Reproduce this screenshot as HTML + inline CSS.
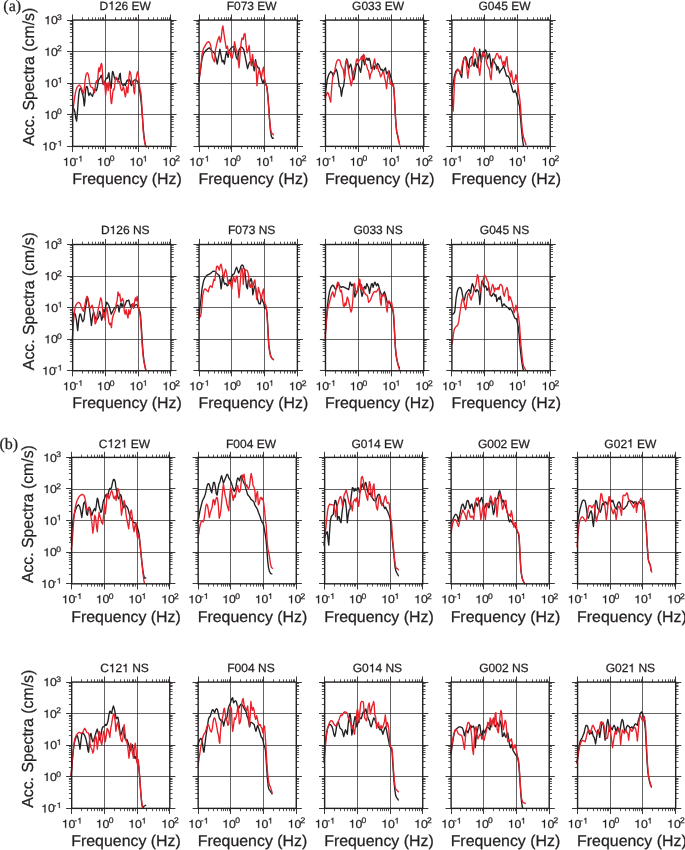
<!DOCTYPE html>
<html><head><meta charset="utf-8"><style>html,body{margin:0;padding:0;background:#fff;overflow:hidden}svg{display:block;will-change:transform}</style></head>
<body><svg width="685" height="850" viewBox="0 0 685 850">
<style>
text{font-family:"Liberation Sans",sans-serif;fill:#231f20;text-rendering:geometricPrecision;stroke:#231f20;stroke-width:0.25px}
path.o{fill:#231f20;stroke:#231f20;stroke-width:0.25px;vector-effect:non-scaling-stroke}
.t{font-size:12px}
.l{font-size:11.5px}
.s{font-size:8.0px}
.ax{font-size:15.6px}
.pl{font-family:"Liberation Serif",serif;font-size:16px}
</style>
<rect width="685" height="850" fill="#fff"/>
<path d="M105.5 20.07V146.37M138.5 20.07V146.37M72.66 51.5H170.96M72.66 83.5H170.96M72.66 114.5H170.96" stroke="#231f20" stroke-opacity="0.7" stroke-width="1" fill="none"/>
<path d="M72.76,107.41 73.91,108.94 74.91,112 75.82,118.12 76.59,121.18 77.35,113.53 78.12,102.82 78.88,93.65 79.65,89.44 80.41,88.29 81.18,89.44 81.94,92.12 82.71,94.41 83.47,98.24 84.24,105.88 84.85,101.29 85.38,92.12 86.15,86.76 86.91,86.38 87.68,88.29 88.44,93.65 88.98,95.56 89.59,93.65 90.2,92.88 90.96,94.41 91.73,95.18 92.49,96.32 93.26,93.65 94.02,90.59 94.79,89.06 95.71,90.21 96.47,90.59 97.24,87.53 98.38,80.65 99.53,78.35 100.45,77.59 101.21,75.29 101.82,76.06 102.59,82.18 103.35,84.47 104.12,83.71 104.88,81.41 105.65,79.5 106.41,77.97 107.02,78.35 107.64,77.97 108.25,74.53 108.86,72.62 109.47,77.59 110.08,82.94 110.69,87.53 111.15,88.29 111.61,82.18 112.07,75.29 112.53,71.47 113.14,72.24 113.75,74.91 114.36,77.59 114.98,79.12 115.59,78.35 116.35,79.12 117.12,79.5 117.73,79.88 118,78.42 118.82,79.45 119.54,74.33 120.25,73.31 120.87,80.47 121.58,83.54 122.3,84.56 123.12,85.59 123.94,84.56 124.65,84.05 125.37,85.59 126.19,82.52 127.01,80.47 127.72,79.96 128.44,81.49 129.26,79.45 130.08,80.47 130.9,84.56 131.51,85.59 132.33,82.52 133.15,82.01 133.86,80.47 134.58,79.96 135.4,79.45 136.22,79.96 137.04,80.98 137.86,82.01 138.47,83.54 139.08,86.61 139.7,90.71 140.31,94.8 140.93,99.92 141.54,106.06 142.16,113.22 142.77,121.41 143.38,129.6 144,135.74 144.82,141.88 145.64,145.98" stroke="#231f20" stroke-width="1.35" fill="none" stroke-linejoin="round" stroke-linecap="round"/>
<path d="M72,115.06 72.61,112.76 73.15,108.94 73.91,102.82 74.68,97.47 75.44,92.88 76.21,89.82 76.97,87.53 77.96,86 78.88,85.24 79.65,85.24 80.41,86.38 81.18,87.53 81.94,89.44 82.71,91.35 83.47,93.65 84.08,90.59 84.62,85.24 85.15,79.88 85.76,76.06 86.53,73.38 87.29,72.62 88.06,73.76 88.82,76.82 89.44,81.41 90.05,85.24 90.74,86.76 91.5,87.15 92.26,87.53 93.03,88.29 93.56,90.59 94.18,92.88 94.79,92.12 95.4,85.24 96.01,82.18 96.62,80.65 97.24,82.94 97.85,78.35 98.46,69.94 99.07,67.65 99.68,71.47 100.29,69.18 100.91,64.59 101.44,63.44 101.98,65.35 102.44,71.47 102.89,79.12 103.35,84.47 103.96,82.94 104.58,82.18 105.19,89.06 105.65,95.18 106.11,90.59 106.56,85.24 107.02,82.94 107.64,86 108.09,90.59 108.55,86.76 109.01,82.18 109.47,82.94 110.08,86.76 110.62,95.94 111.15,102.82 111.61,103.59 112.22,98.24 112.84,92.12 113.45,89.06 114.06,89.82 114.67,86 115.28,79.12 115.89,77.21 116.51,77.59 117.12,79.12 117.73,82.18 118,80.47 118.82,82.01 119.43,81.49 120.05,84.56 120.87,88.66 121.68,90.71 122.5,89.68 123.32,86.61 123.94,88.66 124.55,92.75 125.37,96.85 125.98,93.78 126.6,86.61 127.21,90.71 127.83,92.75 128.44,85.59 129.05,76.38 129.67,71.26 130.28,72.28 130.9,74.33 131.51,80.47 132.12,83.54 132.74,81.49 133.35,84.56 133.97,91.73 134.58,93.78 135.2,84.56 135.81,79.45 136.42,77.4 137.04,73.31 137.65,71.77 138.27,74.33 138.88,78.42 139.49,85.59 140.11,89.68 140.72,91.73 141.13,94.8 141.54,100.94 141.95,107.08 142.36,115.27 142.77,123.46 143.18,130.62 143.79,136.76 144.61,141.88 145.64,145.98 146.45,147" stroke="#e8202a" stroke-width="1.35" fill="none" stroke-linejoin="round" stroke-linecap="round"/>
<path d="M72.5 20.07v-5.6M72.5 146.37v5.6M105.5 20.07v-5.6M105.5 146.37v5.6M138.5 20.07v-5.6M138.5 146.37v5.6M170.5 20.07v-5.6M170.5 146.37v5.6M72.66 146.5h-5.6M170.96 146.5h5.6M72.66 114.5h-5.6M170.96 114.5h5.6M72.66 83.5h-5.6M170.96 83.5h5.6M72.66 51.5h-5.6M170.96 51.5h5.6M72.66 20.5h-5.6M170.96 20.5h5.6" stroke="#231f20" stroke-width="0.9" fill="none"/>
<path d="M82.5 20.07v-2.8M82.5 146.37v2.8M88.5 20.07v-2.8M88.5 146.37v2.8M92.5 20.07v-2.8M92.5 146.37v2.8M95.5 20.07v-2.8M95.5 146.37v2.8M98.5 20.07v-2.8M98.5 146.37v2.8M100.5 20.07v-2.8M100.5 146.37v2.8M102.5 20.07v-2.8M102.5 146.37v2.8M103.5 20.07v-2.8M103.5 146.37v2.8M115.5 20.07v-2.8M115.5 146.37v2.8M121.5 20.07v-2.8M121.5 146.37v2.8M125.5 20.07v-2.8M125.5 146.37v2.8M128.5 20.07v-2.8M128.5 146.37v2.8M130.5 20.07v-2.8M130.5 146.37v2.8M133.5 20.07v-2.8M133.5 146.37v2.8M135.5 20.07v-2.8M135.5 146.37v2.8M136.5 20.07v-2.8M136.5 146.37v2.8M148.5 20.07v-2.8M148.5 146.37v2.8M153.5 20.07v-2.8M153.5 146.37v2.8M157.5 20.07v-2.8M157.5 146.37v2.8M161.5 20.07v-2.8M161.5 146.37v2.8M163.5 20.07v-2.8M163.5 146.37v2.8M165.5 20.07v-2.8M165.5 146.37v2.8M167.5 20.07v-2.8M167.5 146.37v2.8M169.5 20.07v-2.8M169.5 146.37v2.8M72.66 136.5h-2.8M170.96 136.5h2.8M72.66 131.5h-2.8M170.96 131.5h2.8M72.66 127.5h-2.8M170.96 127.5h2.8M72.66 124.5h-2.8M170.96 124.5h2.8M72.66 121.5h-2.8M170.96 121.5h2.8M72.66 119.5h-2.8M170.96 119.5h2.8M72.66 117.5h-2.8M170.96 117.5h2.8M72.66 116.5h-2.8M170.96 116.5h2.8M72.66 105.5h-2.8M170.96 105.5h2.8M72.66 99.5h-2.8M170.96 99.5h2.8M72.66 95.5h-2.8M170.96 95.5h2.8M72.66 92.5h-2.8M170.96 92.5h2.8M72.66 90.5h-2.8M170.96 90.5h2.8M72.66 88.5h-2.8M170.96 88.5h2.8M72.66 86.5h-2.8M170.96 86.5h2.8M72.66 84.5h-2.8M170.96 84.5h2.8M72.66 73.5h-2.8M170.96 73.5h2.8M72.66 68.5h-2.8M170.96 68.5h2.8M72.66 64.5h-2.8M170.96 64.5h2.8M72.66 61.5h-2.8M170.96 61.5h2.8M72.66 58.5h-2.8M170.96 58.5h2.8M72.66 56.5h-2.8M170.96 56.5h2.8M72.66 54.5h-2.8M170.96 54.5h2.8M72.66 53.5h-2.8M170.96 53.5h2.8M72.66 42.5h-2.8M170.96 42.5h2.8M72.66 36.5h-2.8M170.96 36.5h2.8M72.66 32.5h-2.8M170.96 32.5h2.8M72.66 29.5h-2.8M170.96 29.5h2.8M72.66 27.5h-2.8M170.96 27.5h2.8M72.66 24.5h-2.8M170.96 24.5h2.8M72.66 23.5h-2.8M170.96 23.5h2.8M72.66 21.5h-2.8M170.96 21.5h2.8" stroke="#231f20" stroke-width="0.75" fill="none"/>
<rect x="72.66" y="20.07" width="98.3" height="126.3" stroke="#231f20" stroke-width="1.4" fill="none"/>
<text transform="translate(99.58 9.67) scale(1.0 1)" class="t" xml:space="preserve">D</text>
<path class="o" d="M359 0H273V503H101V565C222 573 263 600 291 703H359Z" transform="translate(108.25 9.67) scale(0.01200 -0.01200)"/>
<text transform="translate(114.92 9.67) scale(1.0 1)" class="t" xml:space="preserve">26 EW</text>
<path class="o" d="M359 0H273V503H101V565C222 573 263 600 291 703H359Z" transform="translate(42.06 150.47) scale(0.01230 -0.01150)"/>
<text transform="translate(48.9 150.47) scale(1.07 1)" class="l" xml:space="preserve">0</text>
<text transform="translate(54.55 146.07) scale(1.07 1)" class="s" xml:space="preserve">-</text>
<path class="o" d="M359 0H273V503H101V565C222 573 263 600 291 703H359Z" transform="translate(57.6 146.07) scale(0.00856 -0.00800)"/>
<path class="o" d="M359 0H273V503H101V565C222 573 263 600 291 703H359Z" transform="translate(44.21 118.89) scale(0.01230 -0.01150)"/>
<text transform="translate(51.05 118.89) scale(1.07 1)" class="l" xml:space="preserve">0</text>
<text transform="translate(57.1 114.49) scale(1.07 1)" class="s" xml:space="preserve">0</text>
<path class="o" d="M359 0H273V503H101V565C222 573 263 600 291 703H359Z" transform="translate(44.31 87.32) scale(0.01230 -0.01150)"/>
<text transform="translate(51.15 87.32) scale(1.07 1)" class="l" xml:space="preserve">0</text>
<path class="o" d="M359 0H273V503H101V565C222 573 263 600 291 703H359Z" transform="translate(57.6 82.92) scale(0.00856 -0.00800)"/>
<path class="o" d="M359 0H273V503H101V565C222 573 263 600 291 703H359Z" transform="translate(44.21 55.75) scale(0.01230 -0.01150)"/>
<text transform="translate(51.05 55.75) scale(1.07 1)" class="l" xml:space="preserve">0</text>
<text transform="translate(57.1 51.35) scale(1.07 1)" class="s" xml:space="preserve">2</text>
<path class="o" d="M359 0H273V503H101V565C222 573 263 600 291 703H359Z" transform="translate(44.21 24.17) scale(0.01230 -0.01150)"/>
<text transform="translate(51.05 24.17) scale(1.07 1)" class="l" xml:space="preserve">0</text>
<text transform="translate(57.1 19.77) scale(1.07 1)" class="s" xml:space="preserve">3</text>
<path class="o" d="M359 0H273V503H101V565C222 573 263 600 291 703H359Z" transform="translate(62.71 165.87) scale(0.01230 -0.01150)"/>
<text transform="translate(69.55 165.87) scale(1.07 1)" class="l" xml:space="preserve">0</text>
<text transform="translate(75.2 161.47) scale(1.07 1)" class="s" xml:space="preserve">-</text>
<path class="o" d="M359 0H273V503H101V565C222 573 263 600 291 703H359Z" transform="translate(78.25 161.47) scale(0.00856 -0.00800)"/>
<path class="o" d="M359 0H273V503H101V565C222 573 263 600 291 703H359Z" transform="translate(96.8 165.87) scale(0.01230 -0.01150)"/>
<text transform="translate(103.65 165.87) scale(1.07 1)" class="l" xml:space="preserve">0</text>
<text transform="translate(109.69 161.47) scale(1.07 1)" class="s" xml:space="preserve">0</text>
<path class="o" d="M359 0H273V503H101V565C222 573 263 600 291 703H359Z" transform="translate(129.37 165.87) scale(0.01230 -0.01150)"/>
<text transform="translate(136.21 165.87) scale(1.07 1)" class="l" xml:space="preserve">0</text>
<path class="o" d="M359 0H273V503H101V565C222 573 263 600 291 703H359Z" transform="translate(142.66 161.47) scale(0.00856 -0.00800)"/>
<path class="o" d="M359 0H273V503H101V565C222 573 263 600 291 703H359Z" transform="translate(162.34 165.87) scale(0.01230 -0.01150)"/>
<text transform="translate(169.18 165.87) scale(1.07 1)" class="l" xml:space="preserve">0</text>
<text transform="translate(175.22 161.47) scale(1.07 1)" class="s" xml:space="preserve">2</text>
<text transform="translate(72.19 184.07) scale(1.02 1)" class="ax">Frequency (Hz)</text>
<path d="M231.5 20.07V146.37M264.5 20.07V146.37M199.07 51.5H297.37M199.07 83.5H297.37M199.07 114.5H297.37" stroke="#231f20" stroke-opacity="0.7" stroke-width="1" fill="none"/>
<path d="M199,81.26 200.49,69.31 201.99,59.15 203.48,53.62 205.72,50.63 207.96,48.69 209.46,47.79 210.95,49.88 213.19,52.12 214.69,53.62 216.18,58.85 217.23,64.08 218.42,57.35 219.92,49.14 221.11,55.86 222.16,61.84 223.2,60.34 224.4,64.08 225.6,55.86 226.64,51.38 228.14,57.35 228.88,52.12 230.38,49.14 231.87,47.19 233.36,46.6 234.86,49.88 236.35,57.35 237.55,59.59 239.04,49.88 240.84,46.89 242.33,47.64 243.82,49.88 245.32,57.35 246.51,63.33 247.56,68.56 249.05,63.33 250.55,61.09 252.04,59.59 253.09,64.82 254.28,70.8 255.48,59.59 256.52,64.82 258.02,67.81 259.06,67.81 260.26,73.79 261.75,79.76 262.95,83.5 264.14,79.76 265.49,82.75 266.98,87.24 268.03,97.69 268.92,109.65 269.67,121.6 270.42,130.56 271.46,136.54 272.51,138.33 273.41,138.04" stroke="#231f20" stroke-width="1.35" fill="none" stroke-linejoin="round" stroke-linecap="round"/>
<path d="M199,78.27 200.49,70.8 201.99,54.66 203.48,48.69 205.28,45.4 207.22,42.41 208.71,41.66 210.21,43.91 211.25,48.39 212.45,57.35 213.94,61.09 214.69,61.84 215.44,49.88 216.63,44.65 217.68,40.17 219.17,36.44 220.22,42.41 221.11,39.42 222.16,28.96 222.91,25.98 224.1,34.94 225.15,41.66 226.19,48.39 227.39,46.15 228.58,53.62 229.78,51.38 231.12,57.35 232.17,58.1 233.36,52.87 234.56,41.66 235.61,47.64 236.65,50.63 237.85,57.35 239.04,67.81 240.09,54.36 241.13,43.16 242.03,37.93 243.23,39.42 244.12,34.19 245.02,33.45 246.06,44.65 247.11,52.87 248.31,49.14 249.2,45.4 250.1,57.35 251.29,65.57 252.49,54.36 253.54,61.84 254.58,66.32 255.78,61.84 256.97,85.74 258.02,74.54 259.06,70.05 260.26,72.29 261.45,77.52 262.5,70.8 263.55,67.06 264.44,76.78 265.49,84.25 266.53,85.74 267.73,94.71 268.63,106.66 269.52,118.61 270.42,127.58 271.32,132.81 272.51,133.55 273.41,134.75" stroke="#e8202a" stroke-width="1.35" fill="none" stroke-linejoin="round" stroke-linecap="round"/>
<path d="M199.5 20.07v-5.6M199.5 146.37v5.6M231.5 20.07v-5.6M231.5 146.37v5.6M264.5 20.07v-5.6M264.5 146.37v5.6M297.5 20.07v-5.6M297.5 146.37v5.6M199.07 146.5h-5.6M297.37 146.5h5.6M199.07 114.5h-5.6M297.37 114.5h5.6M199.07 83.5h-5.6M297.37 83.5h5.6M199.07 51.5h-5.6M297.37 51.5h5.6M199.07 20.5h-5.6M297.37 20.5h5.6" stroke="#231f20" stroke-width="0.9" fill="none"/>
<path d="M208.5 20.07v-2.8M208.5 146.37v2.8M214.5 20.07v-2.8M214.5 146.37v2.8M218.5 20.07v-2.8M218.5 146.37v2.8M221.5 20.07v-2.8M221.5 146.37v2.8M224.5 20.07v-2.8M224.5 146.37v2.8M226.5 20.07v-2.8M226.5 146.37v2.8M228.5 20.07v-2.8M228.5 146.37v2.8M230.5 20.07v-2.8M230.5 146.37v2.8M241.5 20.07v-2.8M241.5 146.37v2.8M247.5 20.07v-2.8M247.5 146.37v2.8M251.5 20.07v-2.8M251.5 146.37v2.8M254.5 20.07v-2.8M254.5 146.37v2.8M257.5 20.07v-2.8M257.5 146.37v2.8M259.5 20.07v-2.8M259.5 146.37v2.8M261.5 20.07v-2.8M261.5 146.37v2.8M263.5 20.07v-2.8M263.5 146.37v2.8M274.5 20.07v-2.8M274.5 146.37v2.8M280.5 20.07v-2.8M280.5 146.37v2.8M284.5 20.07v-2.8M284.5 146.37v2.8M287.5 20.07v-2.8M287.5 146.37v2.8M290.5 20.07v-2.8M290.5 146.37v2.8M292.5 20.07v-2.8M292.5 146.37v2.8M294.5 20.07v-2.8M294.5 146.37v2.8M295.5 20.07v-2.8M295.5 146.37v2.8M199.07 136.5h-2.8M297.37 136.5h2.8M199.07 131.5h-2.8M297.37 131.5h2.8M199.07 127.5h-2.8M297.37 127.5h2.8M199.07 124.5h-2.8M297.37 124.5h2.8M199.07 121.5h-2.8M297.37 121.5h2.8M199.07 119.5h-2.8M297.37 119.5h2.8M199.07 117.5h-2.8M297.37 117.5h2.8M199.07 116.5h-2.8M297.37 116.5h2.8M199.07 105.5h-2.8M297.37 105.5h2.8M199.07 99.5h-2.8M297.37 99.5h2.8M199.07 95.5h-2.8M297.37 95.5h2.8M199.07 92.5h-2.8M297.37 92.5h2.8M199.07 90.5h-2.8M297.37 90.5h2.8M199.07 88.5h-2.8M297.37 88.5h2.8M199.07 86.5h-2.8M297.37 86.5h2.8M199.07 84.5h-2.8M297.37 84.5h2.8M199.07 73.5h-2.8M297.37 73.5h2.8M199.07 68.5h-2.8M297.37 68.5h2.8M199.07 64.5h-2.8M297.37 64.5h2.8M199.07 61.5h-2.8M297.37 61.5h2.8M199.07 58.5h-2.8M297.37 58.5h2.8M199.07 56.5h-2.8M297.37 56.5h2.8M199.07 54.5h-2.8M297.37 54.5h2.8M199.07 53.5h-2.8M297.37 53.5h2.8M199.07 42.5h-2.8M297.37 42.5h2.8M199.07 36.5h-2.8M297.37 36.5h2.8M199.07 32.5h-2.8M297.37 32.5h2.8M199.07 29.5h-2.8M297.37 29.5h2.8M199.07 27.5h-2.8M297.37 27.5h2.8M199.07 24.5h-2.8M297.37 24.5h2.8M199.07 23.5h-2.8M297.37 23.5h2.8M199.07 21.5h-2.8M297.37 21.5h2.8" stroke="#231f20" stroke-width="0.75" fill="none"/>
<rect x="199.07" y="20.07" width="98.3" height="126.3" stroke="#231f20" stroke-width="1.4" fill="none"/>
<text transform="translate(226.66 9.67) scale(1.0 1)" class="t" xml:space="preserve">F073 EW</text>
<path class="o" d="M359 0H273V503H101V565C222 573 263 600 291 703H359Z" transform="translate(189.12 165.87) scale(0.01230 -0.01150)"/>
<text transform="translate(195.96 165.87) scale(1.07 1)" class="l" xml:space="preserve">0</text>
<text transform="translate(201.61 161.47) scale(1.07 1)" class="s" xml:space="preserve">-</text>
<path class="o" d="M359 0H273V503H101V565C222 573 263 600 291 703H359Z" transform="translate(204.66 161.47) scale(0.00856 -0.00800)"/>
<path class="o" d="M359 0H273V503H101V565C222 573 263 600 291 703H359Z" transform="translate(223.21 165.87) scale(0.01230 -0.01150)"/>
<text transform="translate(230.06 165.87) scale(1.07 1)" class="l" xml:space="preserve">0</text>
<text transform="translate(236.1 161.47) scale(1.07 1)" class="s" xml:space="preserve">0</text>
<path class="o" d="M359 0H273V503H101V565C222 573 263 600 291 703H359Z" transform="translate(255.78 165.87) scale(0.01230 -0.01150)"/>
<text transform="translate(262.62 165.87) scale(1.07 1)" class="l" xml:space="preserve">0</text>
<path class="o" d="M359 0H273V503H101V565C222 573 263 600 291 703H359Z" transform="translate(269.07 161.47) scale(0.00856 -0.00800)"/>
<path class="o" d="M359 0H273V503H101V565C222 573 263 600 291 703H359Z" transform="translate(288.75 165.87) scale(0.01230 -0.01150)"/>
<text transform="translate(295.59 165.87) scale(1.07 1)" class="l" xml:space="preserve">0</text>
<text transform="translate(301.63 161.47) scale(1.07 1)" class="s" xml:space="preserve">2</text>
<text transform="translate(198.6 184.07) scale(1.02 1)" class="ax">Frequency (Hz)</text>
<path d="M358.5 20.07V146.37M391.5 20.07V146.37M325.48 51.5H423.78M325.48 83.5H423.78M325.48 114.5H423.78" stroke="#231f20" stroke-opacity="0.7" stroke-width="1" fill="none"/>
<path d="M325,96.2 326.2,87.24 327.24,79.76 328.74,74.54 330.68,71.55 332.17,73.04 333.22,76.03 334.71,72.29 336.21,69.31 337.25,72.29 338.45,79.76 339.19,86.49 340.39,87.24 341.44,96.2 342.63,88.73 343.68,85.74 344.42,79.76 345.62,63.33 346.66,58.85 347.71,61.84 348.61,69.31 349.65,66.32 350.7,64.08 351.6,67.81 352.64,76.78 353.69,79.76 354.88,73.79 356.08,66.32 357.12,63.33 358.17,64.82 359.36,67.81 360.56,72.29 361.61,66.32 362.35,55.86 363.55,60.34 364.59,64.82 365.64,59.59 366.84,58.1 368.03,60.34 369.08,58.1 370.12,61.09 371.32,68.56 372.51,67.81 373.56,65.57 374.31,69.31 375.5,64.82 376.55,66.32 377.59,63.33 378.79,64.82 379.98,67.81 381.03,70.05 382.08,69.31 383.27,72.29 384.47,69.31 385.51,67.81 386.56,73.79 387.75,72.29 388.95,70.8 390.14,74.54 391.19,78.27 392.24,82.75 393.43,86.49 394.03,90.22 394.63,100.68 395.22,112.64 395.97,124.59 396.72,132.06 397.91,136.54 398.96,141.77" stroke="#231f20" stroke-width="1.35" fill="none" stroke-linejoin="round" stroke-linecap="round"/>
<path d="M325,97.69 326.2,95.45 327.24,92.46 328.29,93.21 329.48,97.69 330.68,102.18 331.72,87.24 332.77,76.78 333.67,73.04 334.71,71.55 335.76,64.82 336.95,61.09 338.45,59.59 339.94,60.34 341.14,65.57 342.18,67.81 343.23,69.31 344.42,78.27 345.62,64.82 346.66,60.34 347.71,64.82 348.91,73.79 350.1,79.76 351.15,85.74 352.19,81.26 353.39,72.29 354.58,69.31 355.63,64.82 356.38,60.34 357.12,58.85 358.17,61.84 359.36,60.34 360.56,58.85 361.61,56.61 362.65,59.59 363.55,54.36 364.44,55.86 365.34,63.33 366.54,64.82 367.58,69.31 368.63,70.8 369.82,79.02 370.57,73.79 371.62,72.29 372.51,69.31 373.56,63.33 374.6,58.85 375.5,64.82 376.55,68.56 377.59,66.32 378.49,70.8 379.54,72.29 380.58,76.78 381.48,75.28 382.52,73.04 383.57,71.55 384.47,76.78 385.51,81.26 386.56,88.73 387.45,79.76 388.5,71.55 389.55,78.27 390.44,84.25 391.49,82.75 392.53,85.74 393.43,84.25 394.03,90.22 394.63,100.68 395.22,112.64 395.97,124.59 396.72,132.06 397.91,136.54 398.96,142.52 399.71,144.76" stroke="#e8202a" stroke-width="1.35" fill="none" stroke-linejoin="round" stroke-linecap="round"/>
<path d="M325.5 20.07v-5.6M325.5 146.37v5.6M358.5 20.07v-5.6M358.5 146.37v5.6M391.5 20.07v-5.6M391.5 146.37v5.6M423.5 20.07v-5.6M423.5 146.37v5.6M325.48 146.5h-5.6M423.78 146.5h5.6M325.48 114.5h-5.6M423.78 114.5h5.6M325.48 83.5h-5.6M423.78 83.5h5.6M325.48 51.5h-5.6M423.78 51.5h5.6M325.48 20.5h-5.6M423.78 20.5h5.6" stroke="#231f20" stroke-width="0.9" fill="none"/>
<path d="M335.5 20.07v-2.8M335.5 146.37v2.8M341.5 20.07v-2.8M341.5 146.37v2.8M345.5 20.07v-2.8M345.5 146.37v2.8M348.5 20.07v-2.8M348.5 146.37v2.8M350.5 20.07v-2.8M350.5 146.37v2.8M353.5 20.07v-2.8M353.5 146.37v2.8M355.5 20.07v-2.8M355.5 146.37v2.8M356.5 20.07v-2.8M356.5 146.37v2.8M368.5 20.07v-2.8M368.5 146.37v2.8M373.5 20.07v-2.8M373.5 146.37v2.8M377.5 20.07v-2.8M377.5 146.37v2.8M381.5 20.07v-2.8M381.5 146.37v2.8M383.5 20.07v-2.8M383.5 146.37v2.8M385.5 20.07v-2.8M385.5 146.37v2.8M387.5 20.07v-2.8M387.5 146.37v2.8M389.5 20.07v-2.8M389.5 146.37v2.8M400.5 20.07v-2.8M400.5 146.37v2.8M406.5 20.07v-2.8M406.5 146.37v2.8M410.5 20.07v-2.8M410.5 146.37v2.8M413.5 20.07v-2.8M413.5 146.37v2.8M416.5 20.07v-2.8M416.5 146.37v2.8M418.5 20.07v-2.8M418.5 146.37v2.8M420.5 20.07v-2.8M420.5 146.37v2.8M422.5 20.07v-2.8M422.5 146.37v2.8M325.48 136.5h-2.8M423.78 136.5h2.8M325.48 131.5h-2.8M423.78 131.5h2.8M325.48 127.5h-2.8M423.78 127.5h2.8M325.48 124.5h-2.8M423.78 124.5h2.8M325.48 121.5h-2.8M423.78 121.5h2.8M325.48 119.5h-2.8M423.78 119.5h2.8M325.48 117.5h-2.8M423.78 117.5h2.8M325.48 116.5h-2.8M423.78 116.5h2.8M325.48 105.5h-2.8M423.78 105.5h2.8M325.48 99.5h-2.8M423.78 99.5h2.8M325.48 95.5h-2.8M423.78 95.5h2.8M325.48 92.5h-2.8M423.78 92.5h2.8M325.48 90.5h-2.8M423.78 90.5h2.8M325.48 88.5h-2.8M423.78 88.5h2.8M325.48 86.5h-2.8M423.78 86.5h2.8M325.48 84.5h-2.8M423.78 84.5h2.8M325.48 73.5h-2.8M423.78 73.5h2.8M325.48 68.5h-2.8M423.78 68.5h2.8M325.48 64.5h-2.8M423.78 64.5h2.8M325.48 61.5h-2.8M423.78 61.5h2.8M325.48 58.5h-2.8M423.78 58.5h2.8M325.48 56.5h-2.8M423.78 56.5h2.8M325.48 54.5h-2.8M423.78 54.5h2.8M325.48 53.5h-2.8M423.78 53.5h2.8M325.48 42.5h-2.8M423.78 42.5h2.8M325.48 36.5h-2.8M423.78 36.5h2.8M325.48 32.5h-2.8M423.78 32.5h2.8M325.48 29.5h-2.8M423.78 29.5h2.8M325.48 27.5h-2.8M423.78 27.5h2.8M325.48 24.5h-2.8M423.78 24.5h2.8M325.48 23.5h-2.8M423.78 23.5h2.8M325.48 21.5h-2.8M423.78 21.5h2.8" stroke="#231f20" stroke-width="0.75" fill="none"/>
<rect x="325.48" y="20.07" width="98.3" height="126.3" stroke="#231f20" stroke-width="1.4" fill="none"/>
<text transform="translate(352.07 9.67) scale(1.0 1)" class="t" xml:space="preserve">G033 EW</text>
<path class="o" d="M359 0H273V503H101V565C222 573 263 600 291 703H359Z" transform="translate(315.53 165.87) scale(0.01230 -0.01150)"/>
<text transform="translate(322.37 165.87) scale(1.07 1)" class="l" xml:space="preserve">0</text>
<text transform="translate(328.02 161.47) scale(1.07 1)" class="s" xml:space="preserve">-</text>
<path class="o" d="M359 0H273V503H101V565C222 573 263 600 291 703H359Z" transform="translate(331.07 161.47) scale(0.00856 -0.00800)"/>
<path class="o" d="M359 0H273V503H101V565C222 573 263 600 291 703H359Z" transform="translate(349.62 165.87) scale(0.01230 -0.01150)"/>
<text transform="translate(356.47 165.87) scale(1.07 1)" class="l" xml:space="preserve">0</text>
<text transform="translate(362.51 161.47) scale(1.07 1)" class="s" xml:space="preserve">0</text>
<path class="o" d="M359 0H273V503H101V565C222 573 263 600 291 703H359Z" transform="translate(382.19 165.87) scale(0.01230 -0.01150)"/>
<text transform="translate(389.03 165.87) scale(1.07 1)" class="l" xml:space="preserve">0</text>
<path class="o" d="M359 0H273V503H101V565C222 573 263 600 291 703H359Z" transform="translate(395.48 161.47) scale(0.00856 -0.00800)"/>
<path class="o" d="M359 0H273V503H101V565C222 573 263 600 291 703H359Z" transform="translate(415.16 165.87) scale(0.01230 -0.01150)"/>
<text transform="translate(422 165.87) scale(1.07 1)" class="l" xml:space="preserve">0</text>
<text transform="translate(428.04 161.47) scale(1.07 1)" class="s" xml:space="preserve">2</text>
<text transform="translate(325.01 184.07) scale(1.02 1)" class="ax">Frequency (Hz)</text>
<path d="M484.5 20.07V146.37M517.5 20.07V146.37M451.89 51.5H550.19M451.89 83.5H550.19M451.89 114.5H550.19" stroke="#231f20" stroke-opacity="0.7" stroke-width="1" fill="none"/>
<path d="M452,93.21 453.2,84.25 454.24,76.78 455.74,71.55 457.68,69.31 459.47,71.55 460.67,75.28 461.71,77.52 462.76,64.82 463.95,58.1 465.45,56.61 466.64,58.85 467.69,64.82 468.73,67.81 469.93,58.85 471.12,57.35 472.17,56.61 472.92,63.33 474.11,66.32 475.16,58.85 476.2,64.82 477.4,67.81 478.6,60.34 479.64,49.14 480.39,54.36 481.14,61.84 482.18,55.86 483.38,51.38 484.57,52.12 485.62,49.88 486.66,52.87 487.56,58.85 488.61,55.86 489.35,53.62 490.25,58.85 491.15,67.81 492.04,63.33 492.94,58.85 493.84,61.09 495.03,63.33 496.08,64.82 496.82,70.05 497.72,66.32 498.62,68.56 499.51,73.04 500.56,70.8 501.6,69.31 502.8,67.81 503.55,65.57 504.59,69.31 505.49,72.29 506.54,76.03 508.03,76.03 509.52,78.27 510.57,83.5 511.76,87.24 512.96,91.72 514.01,92.46 515.05,90.22 516.25,93.21 517.44,97.69 518.49,102.92 519.53,105.91 520.43,117.12 521.48,129.07 522.52,139.53 523.42,145.51" stroke="#231f20" stroke-width="1.35" fill="none" stroke-linejoin="round" stroke-linecap="round"/>
<path d="M452,93.21 452.75,105.16 453.2,111.14 453.79,99.19 454.39,82.75 455.29,75.28 456.48,71.55 457.98,69.31 459.17,70.8 460.22,73.79 461.26,70.8 462.46,63.33 463.65,58.85 464.7,57.35 466.19,61.09 466.94,69.31 467.84,78.27 468.73,70.8 469.63,66.32 470.68,66.32 471.72,65.57 472.62,58.85 473.66,49.88 474.41,47.64 475.61,52.87 476.65,53.62 477.7,60.34 478.89,69.31 479.79,75.28 480.69,66.32 481.58,57.35 482.63,52.87 483.68,56.61 484.87,53.62 486.07,59.59 487.11,64.82 488.16,67.06 489.35,69.31 490.25,76.78 491.15,79.76 492.04,67.81 493.09,61.84 494.13,59.59 495.33,57.35 496.52,53.62 497.57,53.62 498.62,56.61 499.51,58.85 500.56,55.86 501.6,60.34 502.8,64.82 504,61.09 505.04,66.32 506.09,58.1 506.98,56.61 507.58,64.82 508.48,70.8 509.52,73.04 510.57,76.78 511.47,70.8 512.51,79.76 513.56,84.25 514.75,80.51 515.95,74.54 516.99,79.76 517.74,84.25 518.94,93.21 519.98,100.68 520.73,109.65 521.48,121.6 522.52,132.06 523.72,138.04 524.91,141.02 525.96,144.76" stroke="#e8202a" stroke-width="1.35" fill="none" stroke-linejoin="round" stroke-linecap="round"/>
<path d="M451.5 20.07v-5.6M451.5 146.37v5.6M484.5 20.07v-5.6M484.5 146.37v5.6M517.5 20.07v-5.6M517.5 146.37v5.6M550.5 20.07v-5.6M550.5 146.37v5.6M451.89 146.5h-5.6M550.19 146.5h5.6M451.89 114.5h-5.6M550.19 114.5h5.6M451.89 83.5h-5.6M550.19 83.5h5.6M451.89 51.5h-5.6M550.19 51.5h5.6M451.89 20.5h-5.6M550.19 20.5h5.6" stroke="#231f20" stroke-width="0.9" fill="none"/>
<path d="M461.5 20.07v-2.8M461.5 146.37v2.8M467.5 20.07v-2.8M467.5 146.37v2.8M471.5 20.07v-2.8M471.5 146.37v2.8M474.5 20.07v-2.8M474.5 146.37v2.8M477.5 20.07v-2.8M477.5 146.37v2.8M479.5 20.07v-2.8M479.5 146.37v2.8M481.5 20.07v-2.8M481.5 146.37v2.8M483.5 20.07v-2.8M483.5 146.37v2.8M494.5 20.07v-2.8M494.5 146.37v2.8M500.5 20.07v-2.8M500.5 146.37v2.8M504.5 20.07v-2.8M504.5 146.37v2.8M507.5 20.07v-2.8M507.5 146.37v2.8M510.5 20.07v-2.8M510.5 146.37v2.8M512.5 20.07v-2.8M512.5 146.37v2.8M514.5 20.07v-2.8M514.5 146.37v2.8M515.5 20.07v-2.8M515.5 146.37v2.8M527.5 20.07v-2.8M527.5 146.37v2.8M533.5 20.07v-2.8M533.5 146.37v2.8M537.5 20.07v-2.8M537.5 146.37v2.8M540.5 20.07v-2.8M540.5 146.37v2.8M542.5 20.07v-2.8M542.5 146.37v2.8M545.5 20.07v-2.8M545.5 146.37v2.8M547.5 20.07v-2.8M547.5 146.37v2.8M548.5 20.07v-2.8M548.5 146.37v2.8M451.89 136.5h-2.8M550.19 136.5h2.8M451.89 131.5h-2.8M550.19 131.5h2.8M451.89 127.5h-2.8M550.19 127.5h2.8M451.89 124.5h-2.8M550.19 124.5h2.8M451.89 121.5h-2.8M550.19 121.5h2.8M451.89 119.5h-2.8M550.19 119.5h2.8M451.89 117.5h-2.8M550.19 117.5h2.8M451.89 116.5h-2.8M550.19 116.5h2.8M451.89 105.5h-2.8M550.19 105.5h2.8M451.89 99.5h-2.8M550.19 99.5h2.8M451.89 95.5h-2.8M550.19 95.5h2.8M451.89 92.5h-2.8M550.19 92.5h2.8M451.89 90.5h-2.8M550.19 90.5h2.8M451.89 88.5h-2.8M550.19 88.5h2.8M451.89 86.5h-2.8M550.19 86.5h2.8M451.89 84.5h-2.8M550.19 84.5h2.8M451.89 73.5h-2.8M550.19 73.5h2.8M451.89 68.5h-2.8M550.19 68.5h2.8M451.89 64.5h-2.8M550.19 64.5h2.8M451.89 61.5h-2.8M550.19 61.5h2.8M451.89 58.5h-2.8M550.19 58.5h2.8M451.89 56.5h-2.8M550.19 56.5h2.8M451.89 54.5h-2.8M550.19 54.5h2.8M451.89 53.5h-2.8M550.19 53.5h2.8M451.89 42.5h-2.8M550.19 42.5h2.8M451.89 36.5h-2.8M550.19 36.5h2.8M451.89 32.5h-2.8M550.19 32.5h2.8M451.89 29.5h-2.8M550.19 29.5h2.8M451.89 27.5h-2.8M550.19 27.5h2.8M451.89 24.5h-2.8M550.19 24.5h2.8M451.89 23.5h-2.8M550.19 23.5h2.8M451.89 21.5h-2.8M550.19 21.5h2.8" stroke="#231f20" stroke-width="0.75" fill="none"/>
<rect x="451.89" y="20.07" width="98.3" height="126.3" stroke="#231f20" stroke-width="1.4" fill="none"/>
<text transform="translate(478.48 9.67) scale(1.0 1)" class="t" xml:space="preserve">G045 EW</text>
<path class="o" d="M359 0H273V503H101V565C222 573 263 600 291 703H359Z" transform="translate(441.94 165.87) scale(0.01230 -0.01150)"/>
<text transform="translate(448.78 165.87) scale(1.07 1)" class="l" xml:space="preserve">0</text>
<text transform="translate(454.43 161.47) scale(1.07 1)" class="s" xml:space="preserve">-</text>
<path class="o" d="M359 0H273V503H101V565C222 573 263 600 291 703H359Z" transform="translate(457.48 161.47) scale(0.00856 -0.00800)"/>
<path class="o" d="M359 0H273V503H101V565C222 573 263 600 291 703H359Z" transform="translate(476.03 165.87) scale(0.01230 -0.01150)"/>
<text transform="translate(482.88 165.87) scale(1.07 1)" class="l" xml:space="preserve">0</text>
<text transform="translate(488.92 161.47) scale(1.07 1)" class="s" xml:space="preserve">0</text>
<path class="o" d="M359 0H273V503H101V565C222 573 263 600 291 703H359Z" transform="translate(508.6 165.87) scale(0.01230 -0.01150)"/>
<text transform="translate(515.44 165.87) scale(1.07 1)" class="l" xml:space="preserve">0</text>
<path class="o" d="M359 0H273V503H101V565C222 573 263 600 291 703H359Z" transform="translate(521.89 161.47) scale(0.00856 -0.00800)"/>
<path class="o" d="M359 0H273V503H101V565C222 573 263 600 291 703H359Z" transform="translate(541.57 165.87) scale(0.01230 -0.01150)"/>
<text transform="translate(548.41 165.87) scale(1.07 1)" class="l" xml:space="preserve">0</text>
<text transform="translate(554.45 161.47) scale(1.07 1)" class="s" xml:space="preserve">2</text>
<text transform="translate(451.42 184.07) scale(1.02 1)" class="ax">Frequency (Hz)</text>
<text transform="translate(34.26 76.77) scale(1.008 1) rotate(-90)" class="ax" style="font-size:15.82px" text-anchor="middle">Acc. Spectra (cm/s)</text>
<path d="M105.5 244.5V370.74M138.5 244.5V370.74M72.66 276.5H170.96M72.66 307.5H170.96M72.66 339.5H170.96" stroke="#231f20" stroke-opacity="0.7" stroke-width="1" fill="none"/>
<path d="M72,321.69 73.2,315.72 74.24,312.73 75.29,314.22 76.48,320.2 77.68,330.66 78.72,320.2 79.77,314.22 80.67,314.22 81.71,318.71 82.76,321.69 83.95,319.45 85.15,309.74 86.19,303.76 87.24,297.04 88.44,300.78 89.63,309.74 90.68,318.71 91.42,325.43 92.62,315.72 93.66,311.98 94.71,315.72 95.61,318.71 96.65,320.2 97.7,318.71 98.89,315.72 99.64,311.24 100.69,314.22 101.58,320.2 102.63,317.21 103.68,309.74 104.57,312.73 105.62,306.75 106.66,302.27 107.86,303.76 109.05,306.01 110.1,309.74 111.15,314.22 112.34,311.98 113.54,309.74 114.58,307.5 115.63,308.25 116.82,305.26 118.02,305.26 119.06,311.98 120.11,306.01 121.01,303.02 122.05,306.75 123.1,303.76 124.29,306.75 125.49,303.76 126.54,300.78 127.58,300.78 128.78,300.03 129.67,303.76 130.57,306.75 131.76,304.51 132.96,303.76 134.01,306.75 135.05,305.26 136.25,304.51 137.44,305.26 138.49,308.25 139.53,310.49 140.43,314.22 141.03,321.69 141.63,330.66 142.22,341.12 142.97,351.58 143.72,359.05 144.76,365.02 145.66,369.51" stroke="#231f20" stroke-width="1.35" fill="none" stroke-linejoin="round" stroke-linecap="round"/>
<path d="M72,342.61 72.75,333.65 73.49,321.69 74.69,309.74 75.74,305.26 77.23,303.02 78.72,302.27 80.22,303.76 81.26,306.75 82.46,309.74 83.65,311.24 84.7,306.01 85.75,300.03 86.94,296.29 87.84,297.79 88.73,305.26 89.93,308.25 91.12,306.75 92.17,305.26 93.22,309.74 94.11,315.72 95.16,323.94 96.2,321.69 97.1,315.72 98.15,309.74 98.89,306.75 99.79,301.52 100.69,297.79 101.58,300.03 102.48,308.25 103.38,317.21 104.27,312.73 105.17,320.2 106.07,309.74 106.96,308.25 107.86,314.22 108.76,321.69 109.65,324.68 110.55,323.19 111.44,327.67 112.34,318.71 113.54,314.22 114.58,311.98 115.33,310.49 116.23,303.76 117.12,300.78 118.02,291.81 118.92,295.55 119.81,294.05 120.71,301.52 121.6,300.78 122.5,298.54 123.4,300.78 124.29,311.24 125.19,314.22 126.09,309.74 126.98,314.22 128.03,317.96 128.78,309.74 129.97,314.22 130.87,309.74 131.76,306.75 132.66,303.76 133.56,308.25 134.45,302.27 135.35,297.79 136.25,300.78 137.14,296.29 138.04,303.02 138.94,309.74 139.98,314.22 140.73,321.69 141.48,333.65 142.22,345.6 143.12,356.06 144.02,362.04 144.91,366.52 145.96,370.25" stroke="#e8202a" stroke-width="1.35" fill="none" stroke-linejoin="round" stroke-linecap="round"/>
<path d="M72.5 244.5v-5.6M72.5 370.74v5.6M105.5 244.5v-5.6M105.5 370.74v5.6M138.5 244.5v-5.6M138.5 370.74v5.6M170.5 244.5v-5.6M170.5 370.74v5.6M72.66 370.5h-5.6M170.96 370.5h5.6M72.66 339.5h-5.6M170.96 339.5h5.6M72.66 307.5h-5.6M170.96 307.5h5.6M72.66 276.5h-5.6M170.96 276.5h5.6M72.66 244.5h-5.6M170.96 244.5h5.6" stroke="#231f20" stroke-width="0.9" fill="none"/>
<path d="M82.5 244.5v-2.8M82.5 370.74v2.8M88.5 244.5v-2.8M88.5 370.74v2.8M92.5 244.5v-2.8M92.5 370.74v2.8M95.5 244.5v-2.8M95.5 370.74v2.8M98.5 244.5v-2.8M98.5 370.74v2.8M100.5 244.5v-2.8M100.5 370.74v2.8M102.5 244.5v-2.8M102.5 370.74v2.8M103.5 244.5v-2.8M103.5 370.74v2.8M115.5 244.5v-2.8M115.5 370.74v2.8M121.5 244.5v-2.8M121.5 370.74v2.8M125.5 244.5v-2.8M125.5 370.74v2.8M128.5 244.5v-2.8M128.5 370.74v2.8M130.5 244.5v-2.8M130.5 370.74v2.8M133.5 244.5v-2.8M133.5 370.74v2.8M135.5 244.5v-2.8M135.5 370.74v2.8M136.5 244.5v-2.8M136.5 370.74v2.8M148.5 244.5v-2.8M148.5 370.74v2.8M153.5 244.5v-2.8M153.5 370.74v2.8M157.5 244.5v-2.8M157.5 370.74v2.8M161.5 244.5v-2.8M161.5 370.74v2.8M163.5 244.5v-2.8M163.5 370.74v2.8M165.5 244.5v-2.8M165.5 370.74v2.8M167.5 244.5v-2.8M167.5 370.74v2.8M169.5 244.5v-2.8M169.5 370.74v2.8M72.66 361.5h-2.8M170.96 361.5h2.8M72.66 355.5h-2.8M170.96 355.5h2.8M72.66 351.5h-2.8M170.96 351.5h2.8M72.66 348.5h-2.8M170.96 348.5h2.8M72.66 346.5h-2.8M170.96 346.5h2.8M72.66 344.5h-2.8M170.96 344.5h2.8M72.66 342.5h-2.8M170.96 342.5h2.8M72.66 340.5h-2.8M170.96 340.5h2.8M72.66 329.5h-2.8M170.96 329.5h2.8M72.66 324.5h-2.8M170.96 324.5h2.8M72.66 320.5h-2.8M170.96 320.5h2.8M72.66 317.5h-2.8M170.96 317.5h2.8M72.66 314.5h-2.8M170.96 314.5h2.8M72.66 312.5h-2.8M170.96 312.5h2.8M72.66 310.5h-2.8M170.96 310.5h2.8M72.66 309.5h-2.8M170.96 309.5h2.8M72.66 298.5h-2.8M170.96 298.5h2.8M72.66 292.5h-2.8M170.96 292.5h2.8M72.66 288.5h-2.8M170.96 288.5h2.8M72.66 285.5h-2.8M170.96 285.5h2.8M72.66 283.5h-2.8M170.96 283.5h2.8M72.66 280.5h-2.8M170.96 280.5h2.8M72.66 279.5h-2.8M170.96 279.5h2.8M72.66 277.5h-2.8M170.96 277.5h2.8M72.66 266.5h-2.8M170.96 266.5h2.8M72.66 261.5h-2.8M170.96 261.5h2.8M72.66 257.5h-2.8M170.96 257.5h2.8M72.66 254.5h-2.8M170.96 254.5h2.8M72.66 251.5h-2.8M170.96 251.5h2.8M72.66 249.5h-2.8M170.96 249.5h2.8M72.66 247.5h-2.8M170.96 247.5h2.8M72.66 245.5h-2.8M170.96 245.5h2.8" stroke="#231f20" stroke-width="0.75" fill="none"/>
<rect x="72.66" y="244.5" width="98.3" height="126.24" stroke="#231f20" stroke-width="1.4" fill="none"/>
<text transform="translate(100.91 234.1) scale(1.0 1)" class="t" xml:space="preserve">D</text>
<path class="o" d="M359 0H273V503H101V565C222 573 263 600 291 703H359Z" transform="translate(109.58 234.1) scale(0.01200 -0.01200)"/>
<text transform="translate(116.25 234.1) scale(1.0 1)" class="t" xml:space="preserve">26 NS</text>
<path class="o" d="M359 0H273V503H101V565C222 573 263 600 291 703H359Z" transform="translate(42.06 374.84) scale(0.01230 -0.01150)"/>
<text transform="translate(48.9 374.84) scale(1.07 1)" class="l" xml:space="preserve">0</text>
<text transform="translate(54.55 370.44) scale(1.07 1)" class="s" xml:space="preserve">-</text>
<path class="o" d="M359 0H273V503H101V565C222 573 263 600 291 703H359Z" transform="translate(57.6 370.44) scale(0.00856 -0.00800)"/>
<path class="o" d="M359 0H273V503H101V565C222 573 263 600 291 703H359Z" transform="translate(44.21 343.28) scale(0.01230 -0.01150)"/>
<text transform="translate(51.05 343.28) scale(1.07 1)" class="l" xml:space="preserve">0</text>
<text transform="translate(57.1 338.88) scale(1.07 1)" class="s" xml:space="preserve">0</text>
<path class="o" d="M359 0H273V503H101V565C222 573 263 600 291 703H359Z" transform="translate(44.31 311.72) scale(0.01230 -0.01150)"/>
<text transform="translate(51.15 311.72) scale(1.07 1)" class="l" xml:space="preserve">0</text>
<path class="o" d="M359 0H273V503H101V565C222 573 263 600 291 703H359Z" transform="translate(57.6 307.32) scale(0.00856 -0.00800)"/>
<path class="o" d="M359 0H273V503H101V565C222 573 263 600 291 703H359Z" transform="translate(44.21 280.16) scale(0.01230 -0.01150)"/>
<text transform="translate(51.05 280.16) scale(1.07 1)" class="l" xml:space="preserve">0</text>
<text transform="translate(57.1 275.76) scale(1.07 1)" class="s" xml:space="preserve">2</text>
<path class="o" d="M359 0H273V503H101V565C222 573 263 600 291 703H359Z" transform="translate(44.21 248.6) scale(0.01230 -0.01150)"/>
<text transform="translate(51.05 248.6) scale(1.07 1)" class="l" xml:space="preserve">0</text>
<text transform="translate(57.1 244.2) scale(1.07 1)" class="s" xml:space="preserve">3</text>
<path class="o" d="M359 0H273V503H101V565C222 573 263 600 291 703H359Z" transform="translate(62.71 390.24) scale(0.01230 -0.01150)"/>
<text transform="translate(69.55 390.24) scale(1.07 1)" class="l" xml:space="preserve">0</text>
<text transform="translate(75.2 385.84) scale(1.07 1)" class="s" xml:space="preserve">-</text>
<path class="o" d="M359 0H273V503H101V565C222 573 263 600 291 703H359Z" transform="translate(78.25 385.84) scale(0.00856 -0.00800)"/>
<path class="o" d="M359 0H273V503H101V565C222 573 263 600 291 703H359Z" transform="translate(96.8 390.24) scale(0.01230 -0.01150)"/>
<text transform="translate(103.65 390.24) scale(1.07 1)" class="l" xml:space="preserve">0</text>
<text transform="translate(109.69 385.84) scale(1.07 1)" class="s" xml:space="preserve">0</text>
<path class="o" d="M359 0H273V503H101V565C222 573 263 600 291 703H359Z" transform="translate(129.37 390.24) scale(0.01230 -0.01150)"/>
<text transform="translate(136.21 390.24) scale(1.07 1)" class="l" xml:space="preserve">0</text>
<path class="o" d="M359 0H273V503H101V565C222 573 263 600 291 703H359Z" transform="translate(142.66 385.84) scale(0.00856 -0.00800)"/>
<path class="o" d="M359 0H273V503H101V565C222 573 263 600 291 703H359Z" transform="translate(162.34 390.24) scale(0.01230 -0.01150)"/>
<text transform="translate(169.18 390.24) scale(1.07 1)" class="l" xml:space="preserve">0</text>
<text transform="translate(175.22 385.84) scale(1.07 1)" class="s" xml:space="preserve">2</text>
<text transform="translate(72.19 408.44) scale(1.02 1)" class="ax">Frequency (Hz)</text>
<path d="M231.5 244.5V370.74M264.5 244.5V370.74M199.07 276.5H297.37M199.07 307.5H297.37M199.07 339.5H297.37" stroke="#231f20" stroke-opacity="0.7" stroke-width="1" fill="none"/>
<path d="M199,318.71 199.75,309.74 200.79,300.78 201.99,288.82 203.48,281.35 204.98,277.62 206.77,275.38 208.26,274.63 209.76,273.88 210.95,273.14 212.45,271.64 213.94,271.19 215.44,271.64 216.63,273.14 218.12,274.63 219.17,275.38 220.22,279.86 221.11,288.82 221.71,284.34 222.61,275.38 223.65,281.35 224.7,284.34 225.89,283.15 227.09,285.84 228.14,285.09 229.18,279.86 230.38,281.35 231.57,276.87 232.62,274.63 234.11,273.88 235.61,269.4 236.65,267.16 237.55,270.15 238.59,273.14 239.64,270.89 240.84,266.41 242.03,264.92 243.08,265.66 243.82,267.91 244.72,270.15 245.62,278.36 246.51,286.58 247.41,288.82 248.31,279.86 249.2,282.1 250.1,281.35 251,278.36 251.89,281.35 252.79,294.8 253.68,290.32 254.58,285.84 255.78,288.82 256.97,296.29 258.02,300.78 259.06,303.76 260.26,303.76 261.45,297.79 262.65,300.78 263.84,303.76 264.74,308.25 265.64,306.75 266.53,309.74 267.13,314.22 267.73,324.68 268.33,336.64 268.92,345.6 269.82,351.58 270.72,356.06 271.91,358.3 272.96,359.05" stroke="#231f20" stroke-width="1.35" fill="none" stroke-linejoin="round" stroke-linecap="round"/>
<path d="M199,314.22 199.75,317.21 200.49,316.46 201.24,312.73 201.99,303.76 202.74,295.55 203.78,290.32 204.98,288.82 206.17,289.57 207.22,291.06 208.26,291.81 209.16,288.08 210.21,285.84 211.25,286.58 212.15,287.33 213.04,282.85 213.94,279.11 214.84,280.61 215.73,272.39 216.63,266.41 217.53,266.11 218.42,267.91 219.32,270.15 220.22,265.66 221.11,264.17 222.01,268.65 222.91,273.88 223.8,278.36 224.7,272.39 225.6,269.4 226.49,272.39 227.39,278.36 228.28,284.34 229.18,283.59 230.08,282.1 230.97,285.09 231.87,288.82 232.77,279.86 233.66,276.12 234.56,281.35 235.46,282.1 236.35,276.12 237.25,276.12 238.15,287.33 239.04,297.79 239.94,287.33 240.84,273.88 241.73,267.91 242.63,270.15 243.23,284.34 244.12,273.88 245.02,269.4 245.92,270.15 246.81,270.15 247.71,271.64 248.6,275.38 249.5,285.84 250.4,287.33 251.29,282.85 252.19,287.33 253.09,285.84 253.98,282.1 254.88,279.86 255.78,288.82 256.67,299.28 257.57,294.8 258.47,287.33 259.36,291.81 260.26,294.05 261.16,300.78 261.75,296.29 262.65,291.81 263.55,288.82 264.44,300.78 265.04,303.76 265.94,305.26 266.83,312.73 267.43,321.69 268.03,333.65 268.63,344.11 269.52,351.58 270.42,355.31 271.46,357.85 272.51,359.05 273.41,359.79" stroke="#e8202a" stroke-width="1.35" fill="none" stroke-linejoin="round" stroke-linecap="round"/>
<path d="M199.5 244.5v-5.6M199.5 370.74v5.6M231.5 244.5v-5.6M231.5 370.74v5.6M264.5 244.5v-5.6M264.5 370.74v5.6M297.5 244.5v-5.6M297.5 370.74v5.6M199.07 370.5h-5.6M297.37 370.5h5.6M199.07 339.5h-5.6M297.37 339.5h5.6M199.07 307.5h-5.6M297.37 307.5h5.6M199.07 276.5h-5.6M297.37 276.5h5.6M199.07 244.5h-5.6M297.37 244.5h5.6" stroke="#231f20" stroke-width="0.9" fill="none"/>
<path d="M208.5 244.5v-2.8M208.5 370.74v2.8M214.5 244.5v-2.8M214.5 370.74v2.8M218.5 244.5v-2.8M218.5 370.74v2.8M221.5 244.5v-2.8M221.5 370.74v2.8M224.5 244.5v-2.8M224.5 370.74v2.8M226.5 244.5v-2.8M226.5 370.74v2.8M228.5 244.5v-2.8M228.5 370.74v2.8M230.5 244.5v-2.8M230.5 370.74v2.8M241.5 244.5v-2.8M241.5 370.74v2.8M247.5 244.5v-2.8M247.5 370.74v2.8M251.5 244.5v-2.8M251.5 370.74v2.8M254.5 244.5v-2.8M254.5 370.74v2.8M257.5 244.5v-2.8M257.5 370.74v2.8M259.5 244.5v-2.8M259.5 370.74v2.8M261.5 244.5v-2.8M261.5 370.74v2.8M263.5 244.5v-2.8M263.5 370.74v2.8M274.5 244.5v-2.8M274.5 370.74v2.8M280.5 244.5v-2.8M280.5 370.74v2.8M284.5 244.5v-2.8M284.5 370.74v2.8M287.5 244.5v-2.8M287.5 370.74v2.8M290.5 244.5v-2.8M290.5 370.74v2.8M292.5 244.5v-2.8M292.5 370.74v2.8M294.5 244.5v-2.8M294.5 370.74v2.8M295.5 244.5v-2.8M295.5 370.74v2.8M199.07 361.5h-2.8M297.37 361.5h2.8M199.07 355.5h-2.8M297.37 355.5h2.8M199.07 351.5h-2.8M297.37 351.5h2.8M199.07 348.5h-2.8M297.37 348.5h2.8M199.07 346.5h-2.8M297.37 346.5h2.8M199.07 344.5h-2.8M297.37 344.5h2.8M199.07 342.5h-2.8M297.37 342.5h2.8M199.07 340.5h-2.8M297.37 340.5h2.8M199.07 329.5h-2.8M297.37 329.5h2.8M199.07 324.5h-2.8M297.37 324.5h2.8M199.07 320.5h-2.8M297.37 320.5h2.8M199.07 317.5h-2.8M297.37 317.5h2.8M199.07 314.5h-2.8M297.37 314.5h2.8M199.07 312.5h-2.8M297.37 312.5h2.8M199.07 310.5h-2.8M297.37 310.5h2.8M199.07 309.5h-2.8M297.37 309.5h2.8M199.07 298.5h-2.8M297.37 298.5h2.8M199.07 292.5h-2.8M297.37 292.5h2.8M199.07 288.5h-2.8M297.37 288.5h2.8M199.07 285.5h-2.8M297.37 285.5h2.8M199.07 283.5h-2.8M297.37 283.5h2.8M199.07 280.5h-2.8M297.37 280.5h2.8M199.07 279.5h-2.8M297.37 279.5h2.8M199.07 277.5h-2.8M297.37 277.5h2.8M199.07 266.5h-2.8M297.37 266.5h2.8M199.07 261.5h-2.8M297.37 261.5h2.8M199.07 257.5h-2.8M297.37 257.5h2.8M199.07 254.5h-2.8M297.37 254.5h2.8M199.07 251.5h-2.8M297.37 251.5h2.8M199.07 249.5h-2.8M297.37 249.5h2.8M199.07 247.5h-2.8M297.37 247.5h2.8M199.07 245.5h-2.8M297.37 245.5h2.8" stroke="#231f20" stroke-width="0.75" fill="none"/>
<rect x="199.07" y="244.5" width="98.3" height="126.24" stroke="#231f20" stroke-width="1.4" fill="none"/>
<text transform="translate(227.99 234.1) scale(1.0 1)" class="t" xml:space="preserve">F073 NS</text>
<path class="o" d="M359 0H273V503H101V565C222 573 263 600 291 703H359Z" transform="translate(189.12 390.24) scale(0.01230 -0.01150)"/>
<text transform="translate(195.96 390.24) scale(1.07 1)" class="l" xml:space="preserve">0</text>
<text transform="translate(201.61 385.84) scale(1.07 1)" class="s" xml:space="preserve">-</text>
<path class="o" d="M359 0H273V503H101V565C222 573 263 600 291 703H359Z" transform="translate(204.66 385.84) scale(0.00856 -0.00800)"/>
<path class="o" d="M359 0H273V503H101V565C222 573 263 600 291 703H359Z" transform="translate(223.21 390.24) scale(0.01230 -0.01150)"/>
<text transform="translate(230.06 390.24) scale(1.07 1)" class="l" xml:space="preserve">0</text>
<text transform="translate(236.1 385.84) scale(1.07 1)" class="s" xml:space="preserve">0</text>
<path class="o" d="M359 0H273V503H101V565C222 573 263 600 291 703H359Z" transform="translate(255.78 390.24) scale(0.01230 -0.01150)"/>
<text transform="translate(262.62 390.24) scale(1.07 1)" class="l" xml:space="preserve">0</text>
<path class="o" d="M359 0H273V503H101V565C222 573 263 600 291 703H359Z" transform="translate(269.07 385.84) scale(0.00856 -0.00800)"/>
<path class="o" d="M359 0H273V503H101V565C222 573 263 600 291 703H359Z" transform="translate(288.75 390.24) scale(0.01230 -0.01150)"/>
<text transform="translate(295.59 390.24) scale(1.07 1)" class="l" xml:space="preserve">0</text>
<text transform="translate(301.63 385.84) scale(1.07 1)" class="s" xml:space="preserve">2</text>
<text transform="translate(198.6 408.44) scale(1.02 1)" class="ax">Frequency (Hz)</text>
<path d="M358.5 244.5V370.74M391.5 244.5V370.74M325.48 276.5H423.78M325.48 307.5H423.78M325.48 339.5H423.78" stroke="#231f20" stroke-opacity="0.7" stroke-width="1" fill="none"/>
<path d="M325,333.65 325.75,329.16 326.49,318.71 327.39,306.75 328.29,299.28 329.48,291.81 330.98,287.33 332.47,285.09 333.67,285.84 334.71,288.08 335.76,289.57 336.95,287.33 338.15,283.59 339.19,285.09 340.24,286.58 341.44,287.33 342.93,286.58 344.42,287.33 345.92,288.08 347.41,288.82 348.61,289.57 349.2,287.33 350.1,282.1 350.7,283.59 351.6,285.84 352.49,284.34 353.39,285.09 354.14,291.81 354.88,297.04 355.78,294.8 356.68,291.81 357.57,290.32 358.47,285.84 359.36,281.35 360.26,285.84 361.16,291.81 362.05,296.29 362.95,293.31 363.85,288.08 364.74,286.58 365.64,288.82 366.84,283.59 367.73,285.84 368.63,287.33 369.52,293.31 370.42,288.82 371.32,284.34 372.21,283.59 373.11,287.33 374.01,284.34 374.9,282.1 375.8,284.34 376.7,285.84 377.59,283.59 378.49,285.09 379.39,288.82 380.28,291.81 381.48,294.8 382.67,295.55 383.57,293.31 384.47,291.81 385.36,294.8 386.26,297.79 387.16,302.27 388.05,303.02 389.25,302.27 390.14,303.76 391.04,306.75 391.94,307.5 392.83,310.49 393.43,314.22 394.03,323.19 394.63,333.65 395.22,345.6 395.97,354.56 397.02,360.54 398.21,365.02 399.41,368.01" stroke="#231f20" stroke-width="1.35" fill="none" stroke-linejoin="round" stroke-linecap="round"/>
<path d="M325,338.13 325.75,330.66 326.49,320.2 327.39,311.24 328.29,306.75 329.48,302.27 330.68,297.79 331.72,294.05 332.77,291.81 333.67,295.55 334.26,297.04 335.16,294.05 335.76,290.32 336.65,285.84 337.7,282.1 338.75,282.85 339.64,288.82 340.54,291.81 341.44,290.32 342.33,296.29 343.23,305.26 344.12,306.75 345.02,303.02 345.92,305.26 346.81,299.28 347.41,297.04 348.31,300.03 349.2,303.76 350.1,308.25 351,311.98 351.89,309.74 352.79,300.78 353.69,284.34 354.58,283.59 355.48,290.32 356.38,293.31 357.27,291.81 358.17,287.33 359.07,279.11 359.96,279.86 360.56,288.82 361.46,284.34 362.35,290.32 363.25,287.33 364.15,292.56 365.04,293.31 365.94,294.8 366.84,294.8 367.73,297.04 368.63,302.27 369.52,301.52 370.42,300.03 371.32,297.79 372.21,295.55 373.11,293.31 374.01,291.81 375.2,291.51 376.4,291.81 377.29,290.32 378.19,288.82 379.09,288.82 379.68,293.31 380.28,300.78 381.18,305.26 381.78,294.8 382.67,296.29 383.57,295.55 384.47,294.8 385.36,298.54 386.26,306.75 387.16,311.98 388.05,302.27 388.95,300.78 389.84,302.27 390.74,303.76 391.64,302.27 392.24,306.75 393.13,309.74 393.73,315.72 394.33,327.67 394.92,339.62 395.52,348.59 396.42,356.06 397.46,362.04 398.51,366.52 399.71,370.25" stroke="#e8202a" stroke-width="1.35" fill="none" stroke-linejoin="round" stroke-linecap="round"/>
<path d="M325.5 244.5v-5.6M325.5 370.74v5.6M358.5 244.5v-5.6M358.5 370.74v5.6M391.5 244.5v-5.6M391.5 370.74v5.6M423.5 244.5v-5.6M423.5 370.74v5.6M325.48 370.5h-5.6M423.78 370.5h5.6M325.48 339.5h-5.6M423.78 339.5h5.6M325.48 307.5h-5.6M423.78 307.5h5.6M325.48 276.5h-5.6M423.78 276.5h5.6M325.48 244.5h-5.6M423.78 244.5h5.6" stroke="#231f20" stroke-width="0.9" fill="none"/>
<path d="M335.5 244.5v-2.8M335.5 370.74v2.8M341.5 244.5v-2.8M341.5 370.74v2.8M345.5 244.5v-2.8M345.5 370.74v2.8M348.5 244.5v-2.8M348.5 370.74v2.8M350.5 244.5v-2.8M350.5 370.74v2.8M353.5 244.5v-2.8M353.5 370.74v2.8M355.5 244.5v-2.8M355.5 370.74v2.8M356.5 244.5v-2.8M356.5 370.74v2.8M368.5 244.5v-2.8M368.5 370.74v2.8M373.5 244.5v-2.8M373.5 370.74v2.8M377.5 244.5v-2.8M377.5 370.74v2.8M381.5 244.5v-2.8M381.5 370.74v2.8M383.5 244.5v-2.8M383.5 370.74v2.8M385.5 244.5v-2.8M385.5 370.74v2.8M387.5 244.5v-2.8M387.5 370.74v2.8M389.5 244.5v-2.8M389.5 370.74v2.8M400.5 244.5v-2.8M400.5 370.74v2.8M406.5 244.5v-2.8M406.5 370.74v2.8M410.5 244.5v-2.8M410.5 370.74v2.8M413.5 244.5v-2.8M413.5 370.74v2.8M416.5 244.5v-2.8M416.5 370.74v2.8M418.5 244.5v-2.8M418.5 370.74v2.8M420.5 244.5v-2.8M420.5 370.74v2.8M422.5 244.5v-2.8M422.5 370.74v2.8M325.48 361.5h-2.8M423.78 361.5h2.8M325.48 355.5h-2.8M423.78 355.5h2.8M325.48 351.5h-2.8M423.78 351.5h2.8M325.48 348.5h-2.8M423.78 348.5h2.8M325.48 346.5h-2.8M423.78 346.5h2.8M325.48 344.5h-2.8M423.78 344.5h2.8M325.48 342.5h-2.8M423.78 342.5h2.8M325.48 340.5h-2.8M423.78 340.5h2.8M325.48 329.5h-2.8M423.78 329.5h2.8M325.48 324.5h-2.8M423.78 324.5h2.8M325.48 320.5h-2.8M423.78 320.5h2.8M325.48 317.5h-2.8M423.78 317.5h2.8M325.48 314.5h-2.8M423.78 314.5h2.8M325.48 312.5h-2.8M423.78 312.5h2.8M325.48 310.5h-2.8M423.78 310.5h2.8M325.48 309.5h-2.8M423.78 309.5h2.8M325.48 298.5h-2.8M423.78 298.5h2.8M325.48 292.5h-2.8M423.78 292.5h2.8M325.48 288.5h-2.8M423.78 288.5h2.8M325.48 285.5h-2.8M423.78 285.5h2.8M325.48 283.5h-2.8M423.78 283.5h2.8M325.48 280.5h-2.8M423.78 280.5h2.8M325.48 279.5h-2.8M423.78 279.5h2.8M325.48 277.5h-2.8M423.78 277.5h2.8M325.48 266.5h-2.8M423.78 266.5h2.8M325.48 261.5h-2.8M423.78 261.5h2.8M325.48 257.5h-2.8M423.78 257.5h2.8M325.48 254.5h-2.8M423.78 254.5h2.8M325.48 251.5h-2.8M423.78 251.5h2.8M325.48 249.5h-2.8M423.78 249.5h2.8M325.48 247.5h-2.8M423.78 247.5h2.8M325.48 245.5h-2.8M423.78 245.5h2.8" stroke="#231f20" stroke-width="0.75" fill="none"/>
<rect x="325.48" y="244.5" width="98.3" height="126.24" stroke="#231f20" stroke-width="1.4" fill="none"/>
<text transform="translate(353.4 234.1) scale(1.0 1)" class="t" xml:space="preserve">G033 NS</text>
<path class="o" d="M359 0H273V503H101V565C222 573 263 600 291 703H359Z" transform="translate(315.53 390.24) scale(0.01230 -0.01150)"/>
<text transform="translate(322.37 390.24) scale(1.07 1)" class="l" xml:space="preserve">0</text>
<text transform="translate(328.02 385.84) scale(1.07 1)" class="s" xml:space="preserve">-</text>
<path class="o" d="M359 0H273V503H101V565C222 573 263 600 291 703H359Z" transform="translate(331.07 385.84) scale(0.00856 -0.00800)"/>
<path class="o" d="M359 0H273V503H101V565C222 573 263 600 291 703H359Z" transform="translate(349.62 390.24) scale(0.01230 -0.01150)"/>
<text transform="translate(356.47 390.24) scale(1.07 1)" class="l" xml:space="preserve">0</text>
<text transform="translate(362.51 385.84) scale(1.07 1)" class="s" xml:space="preserve">0</text>
<path class="o" d="M359 0H273V503H101V565C222 573 263 600 291 703H359Z" transform="translate(382.19 390.24) scale(0.01230 -0.01150)"/>
<text transform="translate(389.03 390.24) scale(1.07 1)" class="l" xml:space="preserve">0</text>
<path class="o" d="M359 0H273V503H101V565C222 573 263 600 291 703H359Z" transform="translate(395.48 385.84) scale(0.00856 -0.00800)"/>
<path class="o" d="M359 0H273V503H101V565C222 573 263 600 291 703H359Z" transform="translate(415.16 390.24) scale(0.01230 -0.01150)"/>
<text transform="translate(422 390.24) scale(1.07 1)" class="l" xml:space="preserve">0</text>
<text transform="translate(428.04 385.84) scale(1.07 1)" class="s" xml:space="preserve">2</text>
<text transform="translate(325.01 408.44) scale(1.02 1)" class="ax">Frequency (Hz)</text>
<path d="M484.5 244.5V370.74M517.5 244.5V370.74M451.89 276.5H550.19M451.89 307.5H550.19M451.89 339.5H550.19" stroke="#231f20" stroke-opacity="0.7" stroke-width="1" fill="none"/>
<path d="M452,314.22 453.49,313.92 454.69,311.98 455.29,306.75 456.18,297.79 457.23,291.81 458.28,288.52 459.77,287.33 460.96,288.08 461.86,291.06 462.76,296.29 463.65,300.78 464.55,299.28 465.45,294.8 466.34,292.56 467.54,291.06 468.73,289.57 469.63,290.32 470.53,293.31 471.42,287.33 472.32,283.59 473.22,285.84 474.11,288.82 475.01,290.32 475.91,291.81 476.8,289.57 477.7,290.32 478.6,291.81 479.34,297.79 479.79,304.51 480.39,299.28 481.14,287.33 481.88,281.35 482.63,280.61 483.38,284.34 484.27,287.33 485.17,285.84 486.07,286.58 486.96,290.32 487.86,288.82 488.76,287.33 489.65,293.31 490.55,294.8 491.44,296.29 492.34,295.55 493.24,293.31 494.13,294.05 495.03,296.29 495.93,294.8 496.82,301.52 497.72,299.28 498.62,297.79 499.51,299.28 500.41,296.29 501.31,300.78 502.2,306.75 503.1,305.26 504,303.76 504.89,305.26 505.79,306.01 506.68,306.75 507.58,307.5 508.48,308.25 509.37,309.74 510.27,308.25 511.17,309.74 512.06,311.24 512.96,313.48 513.86,315.72 514.75,317.96 515.65,318.71 516.55,318.71 517.44,323.19 518.34,327.67 519.24,336.64 519.98,345.6 520.73,353.07 521.63,360.54 522.52,366.52 523.42,370.25" stroke="#231f20" stroke-width="1.35" fill="none" stroke-linejoin="round" stroke-linecap="round"/>
<path d="M452,344.11 452.75,339.62 453.49,333.65 454.39,329.16 455.29,327.67 456.48,326.18 457.68,325.43 458.72,321.69 459.47,315.72 460.37,309.74 461.26,303.76 462.16,299.28 463.06,298.54 463.95,302.27 464.85,306.75 465.75,309.74 466.64,303.02 467.54,296.29 468.44,293.31 469.33,294.05 470.23,297.79 471.12,300.03 472.02,296.29 472.92,294.8 473.81,290.32 474.71,288.08 475.61,285.84 476.5,281.35 477.4,274.63 478.3,276.87 479.19,285.84 480.09,291.81 480.99,290.32 481.88,284.34 482.78,281.35 483.68,277.62 484.57,275.08 485.47,276.12 486.36,278.36 487.26,280.61 488.16,282.1 489.05,288.82 489.95,294.8 490.85,291.81 491.74,287.33 492.64,284.34 493.54,286.58 494.43,291.81 495.33,288.08 496.23,288.82 497.12,289.57 498.02,287.33 498.92,289.57 499.81,285.09 500.71,284.34 501.6,285.09 502.5,287.33 503.4,294.05 504.29,296.29 505.19,291.81 506.09,289.57 506.98,287.33 507.88,290.32 508.78,300.78 509.67,296.29 510.57,297.79 511.47,300.78 512.36,303.76 513.26,308.25 514.16,312.73 515.05,309.74 515.95,305.26 516.84,309.74 517.74,312.73 518.64,317.21 519.53,324.68 520.13,333.65 520.73,342.61 521.63,351.58 522.52,360.54 523.42,365.77 524.61,368.01 525.81,370.25" stroke="#e8202a" stroke-width="1.35" fill="none" stroke-linejoin="round" stroke-linecap="round"/>
<path d="M451.5 244.5v-5.6M451.5 370.74v5.6M484.5 244.5v-5.6M484.5 370.74v5.6M517.5 244.5v-5.6M517.5 370.74v5.6M550.5 244.5v-5.6M550.5 370.74v5.6M451.89 370.5h-5.6M550.19 370.5h5.6M451.89 339.5h-5.6M550.19 339.5h5.6M451.89 307.5h-5.6M550.19 307.5h5.6M451.89 276.5h-5.6M550.19 276.5h5.6M451.89 244.5h-5.6M550.19 244.5h5.6" stroke="#231f20" stroke-width="0.9" fill="none"/>
<path d="M461.5 244.5v-2.8M461.5 370.74v2.8M467.5 244.5v-2.8M467.5 370.74v2.8M471.5 244.5v-2.8M471.5 370.74v2.8M474.5 244.5v-2.8M474.5 370.74v2.8M477.5 244.5v-2.8M477.5 370.74v2.8M479.5 244.5v-2.8M479.5 370.74v2.8M481.5 244.5v-2.8M481.5 370.74v2.8M483.5 244.5v-2.8M483.5 370.74v2.8M494.5 244.5v-2.8M494.5 370.74v2.8M500.5 244.5v-2.8M500.5 370.74v2.8M504.5 244.5v-2.8M504.5 370.74v2.8M507.5 244.5v-2.8M507.5 370.74v2.8M510.5 244.5v-2.8M510.5 370.74v2.8M512.5 244.5v-2.8M512.5 370.74v2.8M514.5 244.5v-2.8M514.5 370.74v2.8M515.5 244.5v-2.8M515.5 370.74v2.8M527.5 244.5v-2.8M527.5 370.74v2.8M533.5 244.5v-2.8M533.5 370.74v2.8M537.5 244.5v-2.8M537.5 370.74v2.8M540.5 244.5v-2.8M540.5 370.74v2.8M542.5 244.5v-2.8M542.5 370.74v2.8M545.5 244.5v-2.8M545.5 370.74v2.8M547.5 244.5v-2.8M547.5 370.74v2.8M548.5 244.5v-2.8M548.5 370.74v2.8M451.89 361.5h-2.8M550.19 361.5h2.8M451.89 355.5h-2.8M550.19 355.5h2.8M451.89 351.5h-2.8M550.19 351.5h2.8M451.89 348.5h-2.8M550.19 348.5h2.8M451.89 346.5h-2.8M550.19 346.5h2.8M451.89 344.5h-2.8M550.19 344.5h2.8M451.89 342.5h-2.8M550.19 342.5h2.8M451.89 340.5h-2.8M550.19 340.5h2.8M451.89 329.5h-2.8M550.19 329.5h2.8M451.89 324.5h-2.8M550.19 324.5h2.8M451.89 320.5h-2.8M550.19 320.5h2.8M451.89 317.5h-2.8M550.19 317.5h2.8M451.89 314.5h-2.8M550.19 314.5h2.8M451.89 312.5h-2.8M550.19 312.5h2.8M451.89 310.5h-2.8M550.19 310.5h2.8M451.89 309.5h-2.8M550.19 309.5h2.8M451.89 298.5h-2.8M550.19 298.5h2.8M451.89 292.5h-2.8M550.19 292.5h2.8M451.89 288.5h-2.8M550.19 288.5h2.8M451.89 285.5h-2.8M550.19 285.5h2.8M451.89 283.5h-2.8M550.19 283.5h2.8M451.89 280.5h-2.8M550.19 280.5h2.8M451.89 279.5h-2.8M550.19 279.5h2.8M451.89 277.5h-2.8M550.19 277.5h2.8M451.89 266.5h-2.8M550.19 266.5h2.8M451.89 261.5h-2.8M550.19 261.5h2.8M451.89 257.5h-2.8M550.19 257.5h2.8M451.89 254.5h-2.8M550.19 254.5h2.8M451.89 251.5h-2.8M550.19 251.5h2.8M451.89 249.5h-2.8M550.19 249.5h2.8M451.89 247.5h-2.8M550.19 247.5h2.8M451.89 245.5h-2.8M550.19 245.5h2.8" stroke="#231f20" stroke-width="0.75" fill="none"/>
<rect x="451.89" y="244.5" width="98.3" height="126.24" stroke="#231f20" stroke-width="1.4" fill="none"/>
<text transform="translate(479.81 234.1) scale(1.0 1)" class="t" xml:space="preserve">G045 NS</text>
<path class="o" d="M359 0H273V503H101V565C222 573 263 600 291 703H359Z" transform="translate(441.94 390.24) scale(0.01230 -0.01150)"/>
<text transform="translate(448.78 390.24) scale(1.07 1)" class="l" xml:space="preserve">0</text>
<text transform="translate(454.43 385.84) scale(1.07 1)" class="s" xml:space="preserve">-</text>
<path class="o" d="M359 0H273V503H101V565C222 573 263 600 291 703H359Z" transform="translate(457.48 385.84) scale(0.00856 -0.00800)"/>
<path class="o" d="M359 0H273V503H101V565C222 573 263 600 291 703H359Z" transform="translate(476.03 390.24) scale(0.01230 -0.01150)"/>
<text transform="translate(482.88 390.24) scale(1.07 1)" class="l" xml:space="preserve">0</text>
<text transform="translate(488.92 385.84) scale(1.07 1)" class="s" xml:space="preserve">0</text>
<path class="o" d="M359 0H273V503H101V565C222 573 263 600 291 703H359Z" transform="translate(508.6 390.24) scale(0.01230 -0.01150)"/>
<text transform="translate(515.44 390.24) scale(1.07 1)" class="l" xml:space="preserve">0</text>
<path class="o" d="M359 0H273V503H101V565C222 573 263 600 291 703H359Z" transform="translate(521.89 385.84) scale(0.00856 -0.00800)"/>
<path class="o" d="M359 0H273V503H101V565C222 573 263 600 291 703H359Z" transform="translate(541.57 390.24) scale(0.01230 -0.01150)"/>
<text transform="translate(548.41 390.24) scale(1.07 1)" class="l" xml:space="preserve">0</text>
<text transform="translate(554.45 385.84) scale(1.07 1)" class="s" xml:space="preserve">2</text>
<text transform="translate(451.42 408.44) scale(1.02 1)" class="ax">Frequency (Hz)</text>
<text transform="translate(34.26 301.17) scale(1.008 1) rotate(-90)" class="ax" style="font-size:15.82px" text-anchor="middle">Acc. Spectra (cm/s)</text>
<path d="M104.5 457.4V583.8M137.5 457.4V583.8M71.7 489.5H169.8M71.7 520.5H169.8M71.7 552.5H169.8" stroke="#231f20" stroke-opacity="0.7" stroke-width="1" fill="none"/>
<path d="M71,540.67 71.9,531.71 72.79,522.74 73.99,515.27 75.48,510.04 76.98,506.31 78.47,504.81 79.67,506.31 80.71,510.79 81.76,517.51 82.65,510.79 83.7,503.32 84.75,501.82 85.64,505.56 86.54,513.78 87.44,515.27 88.33,509.29 89.23,507.05 90.12,508.55 91.02,512.28 91.92,515.27 92.81,512.28 93.71,510.04 94.61,508.55 95.5,510.79 96.4,504.81 97.3,498.09 98.19,500.33 99.09,506.31 99.99,509.29 100.88,512.28 101.78,510.79 102.68,504.81 103.57,500.33 104.47,498.84 105.36,495.85 106.26,494.35 107.16,497.34 108.05,495.1 108.95,490.62 109.85,488.38 110.74,489.12 111.64,486.88 112.54,482.4 113.43,479.41 114.33,479.41 115.23,481.65 115.82,486.88 116.72,491.36 117.62,495.85 118.51,498.84 119.41,497.34 120.31,494.35 121.2,495.85 122.1,501.82 123,506.31 123.89,507.8 124.79,504.81 125.68,505.56 126.58,506.31 127.48,507.8 128.37,510.04 129.27,513.78 130.17,516.76 131.06,518.26 131.96,519.75 132.86,521.25 133.75,522.74 134.65,522.74 135.55,522.74 136.44,524.98 137.34,527.22 138.24,530.21 139.13,534.69 140.03,543.66 140.92,552.62 141.82,561.59 142.72,569.06 143.61,575.04 144.51,578.02 145.71,578.02" stroke="#231f20" stroke-width="1.35" fill="none" stroke-linejoin="round" stroke-linecap="round"/>
<path d="M71,548.89 71.75,546.65 72.49,537.68 73.39,524.24 74.29,513.78 75.48,506.31 76.68,501.82 77.87,498.84 79.22,496.59 80.71,495.1 82.21,494.35 83.7,495.1 84.75,497.34 85.64,501.82 86.54,507.8 87.44,510.79 88.33,508.55 89.23,507.8 90.12,512.28 91.02,516.76 91.92,522.74 92.81,533.2 93.71,527.22 94.61,515.27 95.5,516.76 96.4,525.73 97.3,531.71 98.19,519.75 99.09,512.28 99.99,516.76 100.88,519.75 101.78,522.74 102.68,524.24 103.57,515.27 104.47,504.81 105.36,513.78 106.26,504.81 107.16,493.61 108.05,495.1 108.95,498.84 109.85,495.85 110.74,492.86 111.64,490.62 112.54,492.86 113.43,497.34 114.33,498.84 115.23,495.85 116.12,500.33 117.02,492.86 117.92,488.38 118.81,490.62 119.71,495.85 120.6,503.32 121.5,515.27 122.4,509.29 123.29,504.81 124.19,500.33 125.09,504.81 125.98,513.78 126.88,519.75 127.78,524.24 128.67,528.72 129.57,519.75 130.47,512.28 131.36,510.04 132.26,516.76 133.16,527.22 134.05,531.71 134.95,525.73 135.84,522.74 136.74,533.2 137.64,538.43 138.53,534.69 139.43,539.18 140.33,546.65 141.22,555.61 142.12,564.58 143.02,573.54 143.91,581.01 144.51,583.25" stroke="#e8202a" stroke-width="1.35" fill="none" stroke-linejoin="round" stroke-linecap="round"/>
<path d="M71.5 457.4v-5.6M71.5 583.8v5.6M104.5 457.4v-5.6M104.5 583.8v5.6M137.5 457.4v-5.6M137.5 583.8v5.6M169.5 457.4v-5.6M169.5 583.8v5.6M71.7 583.5h-5.6M169.8 583.5h5.6M71.7 552.5h-5.6M169.8 552.5h5.6M71.7 520.5h-5.6M169.8 520.5h5.6M71.7 488.5h-5.6M169.8 488.5h5.6M71.7 457.5h-5.6M169.8 457.5h5.6" stroke="#231f20" stroke-width="0.9" fill="none"/>
<path d="M81.5 457.4v-2.8M81.5 583.8v2.8M87.5 457.4v-2.8M87.5 583.8v2.8M91.5 457.4v-2.8M91.5 583.8v2.8M94.5 457.4v-2.8M94.5 583.8v2.8M97.5 457.4v-2.8M97.5 583.8v2.8M99.5 457.4v-2.8M99.5 583.8v2.8M101.5 457.4v-2.8M101.5 583.8v2.8M102.5 457.4v-2.8M102.5 583.8v2.8M114.5 457.4v-2.8M114.5 583.8v2.8M120.5 457.4v-2.8M120.5 583.8v2.8M124.5 457.4v-2.8M124.5 583.8v2.8M127.5 457.4v-2.8M127.5 583.8v2.8M129.5 457.4v-2.8M129.5 583.8v2.8M132.5 457.4v-2.8M132.5 583.8v2.8M133.5 457.4v-2.8M133.5 583.8v2.8M135.5 457.4v-2.8M135.5 583.8v2.8M146.5 457.4v-2.8M146.5 583.8v2.8M152.5 457.4v-2.8M152.5 583.8v2.8M156.5 457.4v-2.8M156.5 583.8v2.8M159.5 457.4v-2.8M159.5 583.8v2.8M162.5 457.4v-2.8M162.5 583.8v2.8M164.5 457.4v-2.8M164.5 583.8v2.8M166.5 457.4v-2.8M166.5 583.8v2.8M168.5 457.4v-2.8M168.5 583.8v2.8M71.7 574.5h-2.8M169.8 574.5h2.8M71.7 568.5h-2.8M169.8 568.5h2.8M71.7 564.5h-2.8M169.8 564.5h2.8M71.7 561.5h-2.8M169.8 561.5h2.8M71.7 559.5h-2.8M169.8 559.5h2.8M71.7 557.5h-2.8M169.8 557.5h2.8M71.7 555.5h-2.8M169.8 555.5h2.8M71.7 553.5h-2.8M169.8 553.5h2.8M71.7 542.5h-2.8M169.8 542.5h2.8M71.7 537.5h-2.8M169.8 537.5h2.8M71.7 533.5h-2.8M169.8 533.5h2.8M71.7 530.5h-2.8M169.8 530.5h2.8M71.7 527.5h-2.8M169.8 527.5h2.8M71.7 525.5h-2.8M169.8 525.5h2.8M71.7 523.5h-2.8M169.8 523.5h2.8M71.7 522.5h-2.8M169.8 522.5h2.8M71.7 511.5h-2.8M169.8 511.5h2.8M71.7 505.5h-2.8M169.8 505.5h2.8M71.7 501.5h-2.8M169.8 501.5h2.8M71.7 498.5h-2.8M169.8 498.5h2.8M71.7 496.5h-2.8M169.8 496.5h2.8M71.7 493.5h-2.8M169.8 493.5h2.8M71.7 492.5h-2.8M169.8 492.5h2.8M71.7 490.5h-2.8M169.8 490.5h2.8M71.7 479.5h-2.8M169.8 479.5h2.8M71.7 473.5h-2.8M169.8 473.5h2.8M71.7 469.5h-2.8M169.8 469.5h2.8M71.7 466.5h-2.8M169.8 466.5h2.8M71.7 464.5h-2.8M169.8 464.5h2.8M71.7 462.5h-2.8M169.8 462.5h2.8M71.7 460.5h-2.8M169.8 460.5h2.8M71.7 458.5h-2.8M169.8 458.5h2.8" stroke="#231f20" stroke-width="0.75" fill="none"/>
<rect x="71.7" y="457.4" width="98.1" height="126.4" stroke="#231f20" stroke-width="1.4" fill="none"/>
<text transform="translate(98.82 447.5) scale(1.0 1)" class="t" xml:space="preserve">C</text>
<path class="o" d="M359 0H273V503H101V565C222 573 263 600 291 703H359Z" transform="translate(107.49 447.5) scale(0.01200 -0.01200)"/>
<text transform="translate(114.16 447.5) scale(1.0 1)" class="t" xml:space="preserve">2</text>
<path class="o" d="M359 0H273V503H101V565C222 573 263 600 291 703H359Z" transform="translate(120.84 447.5) scale(0.01200 -0.01200)"/>
<text transform="translate(127.51 447.5) scale(1.0 1)" class="t" xml:space="preserve"> EW</text>
<path class="o" d="M359 0H273V503H101V565C222 573 263 600 291 703H359Z" transform="translate(41.1 587.9) scale(0.01230 -0.01150)"/>
<text transform="translate(47.94 587.9) scale(1.07 1)" class="l" xml:space="preserve">0</text>
<text transform="translate(53.59 583.5) scale(1.07 1)" class="s" xml:space="preserve">-</text>
<path class="o" d="M359 0H273V503H101V565C222 573 263 600 291 703H359Z" transform="translate(56.64 583.5) scale(0.00856 -0.00800)"/>
<path class="o" d="M359 0H273V503H101V565C222 573 263 600 291 703H359Z" transform="translate(43.25 556.3) scale(0.01230 -0.01150)"/>
<text transform="translate(50.09 556.3) scale(1.07 1)" class="l" xml:space="preserve">0</text>
<text transform="translate(56.14 551.9) scale(1.07 1)" class="s" xml:space="preserve">0</text>
<path class="o" d="M359 0H273V503H101V565C222 573 263 600 291 703H359Z" transform="translate(43.35 524.7) scale(0.01230 -0.01150)"/>
<text transform="translate(50.19 524.7) scale(1.07 1)" class="l" xml:space="preserve">0</text>
<path class="o" d="M359 0H273V503H101V565C222 573 263 600 291 703H359Z" transform="translate(56.64 520.3) scale(0.00856 -0.00800)"/>
<path class="o" d="M359 0H273V503H101V565C222 573 263 600 291 703H359Z" transform="translate(43.25 493.1) scale(0.01230 -0.01150)"/>
<text transform="translate(50.09 493.1) scale(1.07 1)" class="l" xml:space="preserve">0</text>
<text transform="translate(56.14 488.7) scale(1.07 1)" class="s" xml:space="preserve">2</text>
<path class="o" d="M359 0H273V503H101V565C222 573 263 600 291 703H359Z" transform="translate(43.25 461.5) scale(0.01230 -0.01150)"/>
<text transform="translate(50.09 461.5) scale(1.07 1)" class="l" xml:space="preserve">0</text>
<text transform="translate(56.14 457.1) scale(1.07 1)" class="s" xml:space="preserve">3</text>
<path class="o" d="M359 0H273V503H101V565C222 573 263 600 291 703H359Z" transform="translate(61.75 603.3) scale(0.01230 -0.01150)"/>
<text transform="translate(68.59 603.3) scale(1.07 1)" class="l" xml:space="preserve">0</text>
<text transform="translate(74.24 598.9) scale(1.07 1)" class="s" xml:space="preserve">-</text>
<path class="o" d="M359 0H273V503H101V565C222 573 263 600 291 703H359Z" transform="translate(77.29 598.9) scale(0.00856 -0.00800)"/>
<path class="o" d="M359 0H273V503H101V565C222 573 263 600 291 703H359Z" transform="translate(95.78 603.3) scale(0.01230 -0.01150)"/>
<text transform="translate(102.62 603.3) scale(1.07 1)" class="l" xml:space="preserve">0</text>
<text transform="translate(108.66 598.9) scale(1.07 1)" class="s" xml:space="preserve">0</text>
<path class="o" d="M359 0H273V503H101V565C222 573 263 600 291 703H359Z" transform="translate(128.28 603.3) scale(0.01230 -0.01150)"/>
<text transform="translate(135.12 603.3) scale(1.07 1)" class="l" xml:space="preserve">0</text>
<path class="o" d="M359 0H273V503H101V565C222 573 263 600 291 703H359Z" transform="translate(141.56 598.9) scale(0.00856 -0.00800)"/>
<path class="o" d="M359 0H273V503H101V565C222 573 263 600 291 703H359Z" transform="translate(161.18 603.3) scale(0.01230 -0.01150)"/>
<text transform="translate(168.02 603.3) scale(1.07 1)" class="l" xml:space="preserve">0</text>
<text transform="translate(174.06 598.9) scale(1.07 1)" class="s" xml:space="preserve">2</text>
<text transform="translate(71.23 621.5) scale(1.02 1)" class="ax">Frequency (Hz)</text>
<path d="M230.5 457.4V583.8M263.5 457.4V583.8M198.17 489.5H296.27M198.17 520.5H296.27M198.17 552.5H296.27" stroke="#231f20" stroke-opacity="0.7" stroke-width="1" fill="none"/>
<path d="M198,521.25 198.9,516.76 199.79,511.54 200.99,506.31 202.18,501.82 203.38,498.84 204.57,496.59 205.47,493.61 206.37,489.12 207.26,485.39 208.16,483.6 209.06,483.89 209.95,486.88 210.85,490.62 211.75,492.86 212.64,486.88 213.54,482.4 214.44,482.4 215.33,486.88 216.23,493.61 217.12,495.1 218.02,489.12 218.92,483.89 219.81,482.4 220.71,478.66 221.61,475.68 222.5,479.41 223.4,483.15 224.3,480.91 225.19,478.66 226.09,476.42 226.99,474.18 227.88,474.93 228.78,477.92 229.68,479.41 230.57,480.91 231.47,483.15 232.36,486.14 233.26,489.12 234.16,491.36 235.05,489.87 235.95,486.88 236.85,480.91 237.74,477.92 238.64,478.66 239.54,480.91 240.43,477.17 241.33,475.68 242.23,477.92 243.12,480.91 244.02,483.15 244.92,484.64 245.81,488.38 246.71,491.36 247.6,494.35 248.5,495.85 249.4,496.59 250.29,498.09 251.19,499.58 252.09,500.33 252.98,501.08 253.88,501.82 254.78,504.81 255.67,506.31 256.57,507.8 257.47,509.29 258.36,512.28 259.26,514.52 260.16,516.76 261.05,519.75 261.95,521.99 262.84,522.74 263.74,525.73 264.64,530.96 265.53,536.19 266.43,543.66 267.03,551.13 267.63,560.09 268.52,567.56 269.42,571.3 270.61,573.54 271.81,573.84" stroke="#231f20" stroke-width="1.35" fill="none" stroke-linejoin="round" stroke-linecap="round"/>
<path d="M198,536.19 198.75,533.95 199.49,528.72 200.39,524.24 201.29,521.25 202.18,520.5 203.08,521.99 203.98,519.75 204.87,513.78 205.77,506.31 206.67,504.06 207.56,505.56 208.46,510.79 209.36,517.51 210.25,513.03 211.15,510.04 212.04,507.8 212.94,500.33 213.84,499.58 214.73,504.81 215.63,500.33 216.53,497.34 217.42,498.09 218.32,504.81 219.22,518.26 220.11,515.27 221.01,509.29 221.91,498.84 222.8,489.87 223.4,483.89 224.3,489.87 225.19,495.85 226.09,498.84 226.99,504.81 227.88,507.8 228.78,510.79 229.68,495.85 230.57,487.63 231.47,489.87 232.36,495.85 233.26,500.33 234.16,495.1 235.05,497.34 235.95,492.86 236.85,488.38 237.74,485.39 238.64,491.36 239.54,492.11 240.43,489.87 241.33,480.91 242.23,474.93 243.12,477.92 244.02,474.18 244.92,480.91 245.81,486.88 246.71,484.64 247.6,486.88 248.5,489.12 249.4,486.88 250.29,479.41 251.19,473.44 252.09,477.92 252.98,485.39 253.88,486.88 254.78,489.87 255.67,501.82 256.57,494.35 257.47,491.36 258.36,504.81 259.26,503.32 260.16,498.09 261.05,497.34 261.95,499.58 262.84,498.09 263.74,503.32 264.64,510.79 265.53,521.25 266.13,524.24 266.73,534.69 267.33,543.66 267.92,548.89 268.82,552.62 269.72,558.6 270.61,564.58 271.51,567.56 272.41,568.31" stroke="#e8202a" stroke-width="1.35" fill="none" stroke-linejoin="round" stroke-linecap="round"/>
<path d="M198.5 457.4v-5.6M198.5 583.8v5.6M230.5 457.4v-5.6M230.5 583.8v5.6M263.5 457.4v-5.6M263.5 583.8v5.6M296.5 457.4v-5.6M296.5 583.8v5.6M198.17 583.5h-5.6M296.27 583.5h5.6M198.17 552.5h-5.6M296.27 552.5h5.6M198.17 520.5h-5.6M296.27 520.5h5.6M198.17 488.5h-5.6M296.27 488.5h5.6M198.17 457.5h-5.6M296.27 457.5h5.6" stroke="#231f20" stroke-width="0.9" fill="none"/>
<path d="M208.5 457.4v-2.8M208.5 583.8v2.8M213.5 457.4v-2.8M213.5 583.8v2.8M217.5 457.4v-2.8M217.5 583.8v2.8M221.5 457.4v-2.8M221.5 583.8v2.8M223.5 457.4v-2.8M223.5 583.8v2.8M225.5 457.4v-2.8M225.5 583.8v2.8M227.5 457.4v-2.8M227.5 583.8v2.8M229.5 457.4v-2.8M229.5 583.8v2.8M240.5 457.4v-2.8M240.5 583.8v2.8M246.5 457.4v-2.8M246.5 583.8v2.8M250.5 457.4v-2.8M250.5 583.8v2.8M253.5 457.4v-2.8M253.5 583.8v2.8M256.5 457.4v-2.8M256.5 583.8v2.8M258.5 457.4v-2.8M258.5 583.8v2.8M260.5 457.4v-2.8M260.5 583.8v2.8M262.5 457.4v-2.8M262.5 583.8v2.8M273.5 457.4v-2.8M273.5 583.8v2.8M279.5 457.4v-2.8M279.5 583.8v2.8M283.5 457.4v-2.8M283.5 583.8v2.8M286.5 457.4v-2.8M286.5 583.8v2.8M289.5 457.4v-2.8M289.5 583.8v2.8M291.5 457.4v-2.8M291.5 583.8v2.8M293.5 457.4v-2.8M293.5 583.8v2.8M294.5 457.4v-2.8M294.5 583.8v2.8M198.17 574.5h-2.8M296.27 574.5h2.8M198.17 568.5h-2.8M296.27 568.5h2.8M198.17 564.5h-2.8M296.27 564.5h2.8M198.17 561.5h-2.8M296.27 561.5h2.8M198.17 559.5h-2.8M296.27 559.5h2.8M198.17 557.5h-2.8M296.27 557.5h2.8M198.17 555.5h-2.8M296.27 555.5h2.8M198.17 553.5h-2.8M296.27 553.5h2.8M198.17 542.5h-2.8M296.27 542.5h2.8M198.17 537.5h-2.8M296.27 537.5h2.8M198.17 533.5h-2.8M296.27 533.5h2.8M198.17 530.5h-2.8M296.27 530.5h2.8M198.17 527.5h-2.8M296.27 527.5h2.8M198.17 525.5h-2.8M296.27 525.5h2.8M198.17 523.5h-2.8M296.27 523.5h2.8M198.17 522.5h-2.8M296.27 522.5h2.8M198.17 511.5h-2.8M296.27 511.5h2.8M198.17 505.5h-2.8M296.27 505.5h2.8M198.17 501.5h-2.8M296.27 501.5h2.8M198.17 498.5h-2.8M296.27 498.5h2.8M198.17 496.5h-2.8M296.27 496.5h2.8M198.17 493.5h-2.8M296.27 493.5h2.8M198.17 492.5h-2.8M296.27 492.5h2.8M198.17 490.5h-2.8M296.27 490.5h2.8M198.17 479.5h-2.8M296.27 479.5h2.8M198.17 473.5h-2.8M296.27 473.5h2.8M198.17 469.5h-2.8M296.27 469.5h2.8M198.17 466.5h-2.8M296.27 466.5h2.8M198.17 464.5h-2.8M296.27 464.5h2.8M198.17 462.5h-2.8M296.27 462.5h2.8M198.17 460.5h-2.8M296.27 460.5h2.8M198.17 458.5h-2.8M296.27 458.5h2.8" stroke="#231f20" stroke-width="0.75" fill="none"/>
<rect x="198.17" y="457.4" width="98.1" height="126.4" stroke="#231f20" stroke-width="1.4" fill="none"/>
<text transform="translate(225.96 447.5) scale(1.0 1)" class="t" xml:space="preserve">F004 EW</text>
<path class="o" d="M359 0H273V503H101V565C222 573 263 600 291 703H359Z" transform="translate(188.22 603.3) scale(0.01230 -0.01150)"/>
<text transform="translate(195.06 603.3) scale(1.07 1)" class="l" xml:space="preserve">0</text>
<text transform="translate(200.71 598.9) scale(1.07 1)" class="s" xml:space="preserve">-</text>
<path class="o" d="M359 0H273V503H101V565C222 573 263 600 291 703H359Z" transform="translate(203.76 598.9) scale(0.00856 -0.00800)"/>
<path class="o" d="M359 0H273V503H101V565C222 573 263 600 291 703H359Z" transform="translate(222.25 603.3) scale(0.01230 -0.01150)"/>
<text transform="translate(229.09 603.3) scale(1.07 1)" class="l" xml:space="preserve">0</text>
<text transform="translate(235.13 598.9) scale(1.07 1)" class="s" xml:space="preserve">0</text>
<path class="o" d="M359 0H273V503H101V565C222 573 263 600 291 703H359Z" transform="translate(254.75 603.3) scale(0.01230 -0.01150)"/>
<text transform="translate(261.59 603.3) scale(1.07 1)" class="l" xml:space="preserve">0</text>
<path class="o" d="M359 0H273V503H101V565C222 573 263 600 291 703H359Z" transform="translate(268.03 598.9) scale(0.00856 -0.00800)"/>
<path class="o" d="M359 0H273V503H101V565C222 573 263 600 291 703H359Z" transform="translate(287.65 603.3) scale(0.01230 -0.01150)"/>
<text transform="translate(294.49 603.3) scale(1.07 1)" class="l" xml:space="preserve">0</text>
<text transform="translate(300.53 598.9) scale(1.07 1)" class="s" xml:space="preserve">2</text>
<text transform="translate(197.7 621.5) scale(1.02 1)" class="ax">Frequency (Hz)</text>
<path d="M357.5 457.4V583.8M390.5 457.4V583.8M324.64 489.5H422.74M324.64 520.5H422.74M324.64 552.5H422.74" stroke="#231f20" stroke-opacity="0.7" stroke-width="1" fill="none"/>
<path d="M324,545.15 324.75,537.68 325.49,534.69 326.39,533.2 327.29,531.71 328.18,540.67 328.78,545.15 329.38,534.69 330.28,521.25 331.17,516.76 332.22,515.27 333.26,514.52 334.16,506.31 335.06,500.33 335.95,501.08 336.85,506.31 337.45,519.75 338.34,516.76 339.24,516.76 340.14,521.25 341.03,522.74 341.93,513.78 342.83,506.31 343.72,501.82 344.62,498.84 345.52,501.08 346.41,509.29 347.31,522.74 348.2,515.27 349.1,510.04 350,509.29 350.6,501.82 351.49,494.35 352.39,487.63 353.28,488.38 354.18,491.36 355.08,488.38 355.97,490.62 356.87,489.12 357.77,487.63 358.66,488.38 359.56,492.86 360.46,491.36 361.35,486.88 362.25,483.89 363.15,486.88 364.04,489.12 364.94,483.89 365.84,482.4 366.73,486.88 367.63,491.36 368.52,492.86 369.42,494.35 370.32,492.86 371.21,496.59 372.11,497.34 373.01,498.84 373.9,500.33 374.8,500.33 375.7,501.82 376.59,498.84 377.49,495.85 378.39,494.35 379.28,494.35 380.18,497.34 381.08,503.32 381.97,504.81 382.87,503.32 383.76,506.31 384.66,508.55 385.56,507.05 386.45,509.29 387.35,510.79 388.25,513.03 389.14,515.27 390.04,518.26 390.94,524.24 391.53,531.71 392.43,540.67 393.33,549.64 394.22,558.6 395.12,567.56 396.02,571.3 397.21,573.54 398.41,575.78" stroke="#231f20" stroke-width="1.35" fill="none" stroke-linejoin="round" stroke-linecap="round"/>
<path d="M324,536.19 324.9,534.69 325.79,528.72 326.69,519.75 327.59,510.79 328.48,506.31 329.68,504.06 330.87,504.51 332.07,504.81 333.26,504.81 334.16,505.56 335.06,512.28 335.65,516.76 336.25,510.79 337.15,506.31 338.04,503.32 338.94,500.33 339.84,497.34 340.73,496.59 341.63,500.33 342.53,506.31 343.42,498.84 344.32,494.35 345.22,492.86 346.11,489.87 347.01,492.86 347.91,497.34 348.8,501.82 349.7,504.81 350.6,501.82 351.49,506.31 352.39,510.79 353.28,501.82 354.18,500.33 355.08,498.84 355.97,501.82 356.87,497.34 357.77,500.33 358.66,506.31 359.26,501.82 359.86,494.35 360.76,485.39 361.35,477.92 362.25,476.42 363.15,479.41 364.04,485.39 364.94,489.87 365.84,492.86 366.73,497.34 367.63,500.33 368.52,491.36 369.42,481.65 370.32,484.64 371.21,494.35 372.11,497.34 373.01,486.88 373.9,483.89 374.8,494.35 375.7,501.82 376.59,507.8 377.49,510.04 378.39,501.82 379.28,495.85 380.18,497.34 381.08,501.82 381.97,505.56 382.87,504.81 383.76,501.82 384.66,497.34 385.56,495.85 386.45,500.33 387.35,503.32 388.25,502.57 389.14,503.32 389.74,509.29 390.64,516.76 391.53,522.74 392.13,531.71 392.73,540.67 393.63,549.64 394.52,558.6 395.42,566.07 396.32,568.31 397.21,568.31 398.41,569.81" stroke="#e8202a" stroke-width="1.35" fill="none" stroke-linejoin="round" stroke-linecap="round"/>
<path d="M324.5 457.4v-5.6M324.5 583.8v5.6M357.5 457.4v-5.6M357.5 583.8v5.6M390.5 457.4v-5.6M390.5 583.8v5.6M422.5 457.4v-5.6M422.5 583.8v5.6M324.64 583.5h-5.6M422.74 583.5h5.6M324.64 552.5h-5.6M422.74 552.5h5.6M324.64 520.5h-5.6M422.74 520.5h5.6M324.64 488.5h-5.6M422.74 488.5h5.6M324.64 457.5h-5.6M422.74 457.5h5.6" stroke="#231f20" stroke-width="0.9" fill="none"/>
<path d="M334.5 457.4v-2.8M334.5 583.8v2.8M340.5 457.4v-2.8M340.5 583.8v2.8M344.5 457.4v-2.8M344.5 583.8v2.8M347.5 457.4v-2.8M347.5 583.8v2.8M350.5 457.4v-2.8M350.5 583.8v2.8M352.5 457.4v-2.8M352.5 583.8v2.8M354.5 457.4v-2.8M354.5 583.8v2.8M355.5 457.4v-2.8M355.5 583.8v2.8M367.5 457.4v-2.8M367.5 583.8v2.8M372.5 457.4v-2.8M372.5 583.8v2.8M377.5 457.4v-2.8M377.5 583.8v2.8M380.5 457.4v-2.8M380.5 583.8v2.8M382.5 457.4v-2.8M382.5 583.8v2.8M384.5 457.4v-2.8M384.5 583.8v2.8M386.5 457.4v-2.8M386.5 583.8v2.8M388.5 457.4v-2.8M388.5 583.8v2.8M399.5 457.4v-2.8M399.5 583.8v2.8M405.5 457.4v-2.8M405.5 583.8v2.8M409.5 457.4v-2.8M409.5 583.8v2.8M412.5 457.4v-2.8M412.5 583.8v2.8M415.5 457.4v-2.8M415.5 583.8v2.8M417.5 457.4v-2.8M417.5 583.8v2.8M419.5 457.4v-2.8M419.5 583.8v2.8M421.5 457.4v-2.8M421.5 583.8v2.8M324.64 574.5h-2.8M422.74 574.5h2.8M324.64 568.5h-2.8M422.74 568.5h2.8M324.64 564.5h-2.8M422.74 564.5h2.8M324.64 561.5h-2.8M422.74 561.5h2.8M324.64 559.5h-2.8M422.74 559.5h2.8M324.64 557.5h-2.8M422.74 557.5h2.8M324.64 555.5h-2.8M422.74 555.5h2.8M324.64 553.5h-2.8M422.74 553.5h2.8M324.64 542.5h-2.8M422.74 542.5h2.8M324.64 537.5h-2.8M422.74 537.5h2.8M324.64 533.5h-2.8M422.74 533.5h2.8M324.64 530.5h-2.8M422.74 530.5h2.8M324.64 527.5h-2.8M422.74 527.5h2.8M324.64 525.5h-2.8M422.74 525.5h2.8M324.64 523.5h-2.8M422.74 523.5h2.8M324.64 522.5h-2.8M422.74 522.5h2.8M324.64 511.5h-2.8M422.74 511.5h2.8M324.64 505.5h-2.8M422.74 505.5h2.8M324.64 501.5h-2.8M422.74 501.5h2.8M324.64 498.5h-2.8M422.74 498.5h2.8M324.64 496.5h-2.8M422.74 496.5h2.8M324.64 493.5h-2.8M422.74 493.5h2.8M324.64 492.5h-2.8M422.74 492.5h2.8M324.64 490.5h-2.8M422.74 490.5h2.8M324.64 479.5h-2.8M422.74 479.5h2.8M324.64 473.5h-2.8M422.74 473.5h2.8M324.64 469.5h-2.8M422.74 469.5h2.8M324.64 466.5h-2.8M422.74 466.5h2.8M324.64 464.5h-2.8M422.74 464.5h2.8M324.64 462.5h-2.8M422.74 462.5h2.8M324.64 460.5h-2.8M422.74 460.5h2.8M324.64 458.5h-2.8M422.74 458.5h2.8" stroke="#231f20" stroke-width="0.75" fill="none"/>
<rect x="324.64" y="457.4" width="98.1" height="126.4" stroke="#231f20" stroke-width="1.4" fill="none"/>
<text transform="translate(351.43 447.5) scale(1.0 1)" class="t" xml:space="preserve">G0</text>
<path class="o" d="M359 0H273V503H101V565C222 573 263 600 291 703H359Z" transform="translate(367.44 447.5) scale(0.01200 -0.01200)"/>
<text transform="translate(374.11 447.5) scale(1.0 1)" class="t" xml:space="preserve">4 EW</text>
<path class="o" d="M359 0H273V503H101V565C222 573 263 600 291 703H359Z" transform="translate(314.69 603.3) scale(0.01230 -0.01150)"/>
<text transform="translate(321.53 603.3) scale(1.07 1)" class="l" xml:space="preserve">0</text>
<text transform="translate(327.18 598.9) scale(1.07 1)" class="s" xml:space="preserve">-</text>
<path class="o" d="M359 0H273V503H101V565C222 573 263 600 291 703H359Z" transform="translate(330.23 598.9) scale(0.00856 -0.00800)"/>
<path class="o" d="M359 0H273V503H101V565C222 573 263 600 291 703H359Z" transform="translate(348.72 603.3) scale(0.01230 -0.01150)"/>
<text transform="translate(355.56 603.3) scale(1.07 1)" class="l" xml:space="preserve">0</text>
<text transform="translate(361.6 598.9) scale(1.07 1)" class="s" xml:space="preserve">0</text>
<path class="o" d="M359 0H273V503H101V565C222 573 263 600 291 703H359Z" transform="translate(381.22 603.3) scale(0.01230 -0.01150)"/>
<text transform="translate(388.06 603.3) scale(1.07 1)" class="l" xml:space="preserve">0</text>
<path class="o" d="M359 0H273V503H101V565C222 573 263 600 291 703H359Z" transform="translate(394.5 598.9) scale(0.00856 -0.00800)"/>
<path class="o" d="M359 0H273V503H101V565C222 573 263 600 291 703H359Z" transform="translate(414.12 603.3) scale(0.01230 -0.01150)"/>
<text transform="translate(420.96 603.3) scale(1.07 1)" class="l" xml:space="preserve">0</text>
<text transform="translate(427 598.9) scale(1.07 1)" class="s" xml:space="preserve">2</text>
<text transform="translate(324.17 621.5) scale(1.02 1)" class="ax">Frequency (Hz)</text>
<path d="M483.5 457.4V583.8M516.5 457.4V583.8M451.11 489.5H549.21M451.11 520.5H549.21M451.11 552.5H549.21" stroke="#231f20" stroke-opacity="0.7" stroke-width="1" fill="none"/>
<path d="M451,522.74 451.9,521.25 452.79,519.75 453.99,516.76 455.18,514.52 456.38,514.52 457.57,516.76 458.47,521.25 459.37,516.76 460.26,512.28 461.16,507.8 462.06,504.81 462.95,504.06 463.85,506.31 464.75,509.29 465.64,507.8 466.54,502.57 467.44,500.33 468.33,501.08 469.23,504.81 470.12,508.55 471.02,504.81 471.92,504.06 472.81,507.8 473.71,512.28 474.61,506.31 475.5,501.82 476.4,503.32 477.3,506.31 478.19,504.06 479.09,500.33 479.99,501.82 480.88,498.84 481.78,497.34 482.68,501.82 483.57,506.31 484.47,508.55 485.36,506.31 486.26,503.32 487.16,504.06 488.05,506.31 488.95,507.8 489.85,503.32 490.74,500.33 491.64,501.82 492.54,507.8 493.43,514.52 494.33,511.54 495.23,503.32 496.12,499.58 497.02,498.84 497.92,497.34 498.81,492.11 499.71,490.62 500.6,494.35 501.5,498.09 502.4,501.82 503.29,500.33 504.19,503.32 505.09,504.81 505.98,507.8 506.88,510.79 507.78,513.78 508.67,519.75 509.57,521.99 510.47,519.75 511.36,521.25 512.26,522.74 513.16,524.24 514.05,524.24 514.95,525.73 515.84,527.22 516.74,530.21 517.64,532.45 518.53,533.95 519.13,539.18 519.73,549.64 520.33,561.59 520.92,570.55 521.82,576.53 522.72,579.52 523.91,582.51 524.81,583.7" stroke="#231f20" stroke-width="1.35" fill="none" stroke-linejoin="round" stroke-linecap="round"/>
<path d="M451,533.2 451.75,528.72 452.49,524.24 453.39,521.25 454.29,519.75 455.48,519.75 456.68,521.25 457.57,524.24 458.47,526.48 459.37,522.74 460.26,518.26 461.16,515.27 462.06,512.28 462.95,510.04 463.85,512.28 464.75,513.78 465.64,516.76 466.54,519.75 467.44,513.03 468.33,510.04 469.23,512.28 470.12,516.76 471.02,517.51 471.92,516.02 472.81,516.76 473.71,519.75 474.61,510.79 475.5,501.82 476.4,498.09 477.3,500.33 478.19,497.34 479.09,503.32 479.99,510.79 480.88,519.75 481.78,513.78 482.68,507.8 483.57,503.32 484.47,513.78 485.36,519.75 486.26,510.79 487.16,503.32 488.05,503.32 488.95,504.81 489.85,498.84 490.74,495.85 491.64,499.58 492.54,503.32 493.43,504.81 494.33,501.08 495.23,497.34 496.12,504.81 497.02,516.76 497.92,506.31 498.81,497.34 499.71,493.61 500.6,495.85 501.5,501.82 502.4,509.29 503.29,507.8 504.19,503.32 505.09,500.33 505.98,500.33 506.88,512.28 507.78,513.78 508.67,515.27 509.57,514.52 510.47,516.76 511.36,510.79 512.26,515.27 513.16,524.24 514.05,527.22 514.95,522.74 515.84,522.74 516.74,528.72 517.64,531.71 518.53,533.2 519.13,536.19 519.73,546.65 520.33,558.6 520.92,569.06 521.82,576.53 522.72,580.26 523.91,582.51 524.81,583.7" stroke="#e8202a" stroke-width="1.35" fill="none" stroke-linejoin="round" stroke-linecap="round"/>
<path d="M451.5 457.4v-5.6M451.5 583.8v5.6M483.5 457.4v-5.6M483.5 583.8v5.6M516.5 457.4v-5.6M516.5 583.8v5.6M549.5 457.4v-5.6M549.5 583.8v5.6M451.11 583.5h-5.6M549.21 583.5h5.6M451.11 552.5h-5.6M549.21 552.5h5.6M451.11 520.5h-5.6M549.21 520.5h5.6M451.11 488.5h-5.6M549.21 488.5h5.6M451.11 457.5h-5.6M549.21 457.5h5.6" stroke="#231f20" stroke-width="0.9" fill="none"/>
<path d="M460.5 457.4v-2.8M460.5 583.8v2.8M466.5 457.4v-2.8M466.5 583.8v2.8M470.5 457.4v-2.8M470.5 583.8v2.8M473.5 457.4v-2.8M473.5 583.8v2.8M476.5 457.4v-2.8M476.5 583.8v2.8M478.5 457.4v-2.8M478.5 583.8v2.8M480.5 457.4v-2.8M480.5 583.8v2.8M482.5 457.4v-2.8M482.5 583.8v2.8M493.5 457.4v-2.8M493.5 583.8v2.8M499.5 457.4v-2.8M499.5 583.8v2.8M503.5 457.4v-2.8M503.5 583.8v2.8M506.5 457.4v-2.8M506.5 583.8v2.8M509.5 457.4v-2.8M509.5 583.8v2.8M511.5 457.4v-2.8M511.5 583.8v2.8M513.5 457.4v-2.8M513.5 583.8v2.8M515.5 457.4v-2.8M515.5 583.8v2.8M526.5 457.4v-2.8M526.5 583.8v2.8M532.5 457.4v-2.8M532.5 583.8v2.8M536.5 457.4v-2.8M536.5 583.8v2.8M539.5 457.4v-2.8M539.5 583.8v2.8M541.5 457.4v-2.8M541.5 583.8v2.8M544.5 457.4v-2.8M544.5 583.8v2.8M546.5 457.4v-2.8M546.5 583.8v2.8M547.5 457.4v-2.8M547.5 583.8v2.8M451.11 574.5h-2.8M549.21 574.5h2.8M451.11 568.5h-2.8M549.21 568.5h2.8M451.11 564.5h-2.8M549.21 564.5h2.8M451.11 561.5h-2.8M549.21 561.5h2.8M451.11 559.5h-2.8M549.21 559.5h2.8M451.11 557.5h-2.8M549.21 557.5h2.8M451.11 555.5h-2.8M549.21 555.5h2.8M451.11 553.5h-2.8M549.21 553.5h2.8M451.11 542.5h-2.8M549.21 542.5h2.8M451.11 537.5h-2.8M549.21 537.5h2.8M451.11 533.5h-2.8M549.21 533.5h2.8M451.11 530.5h-2.8M549.21 530.5h2.8M451.11 527.5h-2.8M549.21 527.5h2.8M451.11 525.5h-2.8M549.21 525.5h2.8M451.11 523.5h-2.8M549.21 523.5h2.8M451.11 522.5h-2.8M549.21 522.5h2.8M451.11 511.5h-2.8M549.21 511.5h2.8M451.11 505.5h-2.8M549.21 505.5h2.8M451.11 501.5h-2.8M549.21 501.5h2.8M451.11 498.5h-2.8M549.21 498.5h2.8M451.11 496.5h-2.8M549.21 496.5h2.8M451.11 493.5h-2.8M549.21 493.5h2.8M451.11 492.5h-2.8M549.21 492.5h2.8M451.11 490.5h-2.8M549.21 490.5h2.8M451.11 479.5h-2.8M549.21 479.5h2.8M451.11 473.5h-2.8M549.21 473.5h2.8M451.11 469.5h-2.8M549.21 469.5h2.8M451.11 466.5h-2.8M549.21 466.5h2.8M451.11 464.5h-2.8M549.21 464.5h2.8M451.11 462.5h-2.8M549.21 462.5h2.8M451.11 460.5h-2.8M549.21 460.5h2.8M451.11 458.5h-2.8M549.21 458.5h2.8" stroke="#231f20" stroke-width="0.75" fill="none"/>
<rect x="451.11" y="457.4" width="98.1" height="126.4" stroke="#231f20" stroke-width="1.4" fill="none"/>
<text transform="translate(477.9 447.5) scale(1.0 1)" class="t" xml:space="preserve">G002 EW</text>
<path class="o" d="M359 0H273V503H101V565C222 573 263 600 291 703H359Z" transform="translate(441.16 603.3) scale(0.01230 -0.01150)"/>
<text transform="translate(448 603.3) scale(1.07 1)" class="l" xml:space="preserve">0</text>
<text transform="translate(453.65 598.9) scale(1.07 1)" class="s" xml:space="preserve">-</text>
<path class="o" d="M359 0H273V503H101V565C222 573 263 600 291 703H359Z" transform="translate(456.7 598.9) scale(0.00856 -0.00800)"/>
<path class="o" d="M359 0H273V503H101V565C222 573 263 600 291 703H359Z" transform="translate(475.19 603.3) scale(0.01230 -0.01150)"/>
<text transform="translate(482.03 603.3) scale(1.07 1)" class="l" xml:space="preserve">0</text>
<text transform="translate(488.07 598.9) scale(1.07 1)" class="s" xml:space="preserve">0</text>
<path class="o" d="M359 0H273V503H101V565C222 573 263 600 291 703H359Z" transform="translate(507.69 603.3) scale(0.01230 -0.01150)"/>
<text transform="translate(514.53 603.3) scale(1.07 1)" class="l" xml:space="preserve">0</text>
<path class="o" d="M359 0H273V503H101V565C222 573 263 600 291 703H359Z" transform="translate(520.97 598.9) scale(0.00856 -0.00800)"/>
<path class="o" d="M359 0H273V503H101V565C222 573 263 600 291 703H359Z" transform="translate(540.59 603.3) scale(0.01230 -0.01150)"/>
<text transform="translate(547.43 603.3) scale(1.07 1)" class="l" xml:space="preserve">0</text>
<text transform="translate(553.47 598.9) scale(1.07 1)" class="s" xml:space="preserve">2</text>
<text transform="translate(450.64 621.5) scale(1.02 1)" class="ax">Frequency (Hz)</text>
<path d="M610.5 457.4V583.8M642.5 457.4V583.8M577.58 489.5H675.68M577.58 520.5H675.68M577.58 552.5H675.68" stroke="#231f20" stroke-opacity="0.7" stroke-width="1" fill="none"/>
<path d="M577,527.22 577.9,521.25 578.79,515.27 579.99,509.29 581.18,504.81 582.38,501.08 583.57,500.03 584.77,500.33 585.67,503.32 586.56,509.29 587.46,516.76 588.36,518.26 589.25,515.27 590.15,512.28 591.04,510.79 591.94,513.78 592.84,522.74 593.44,526.48 594.33,516.76 595.23,503.32 595.83,500.33 596.72,501.82 597.62,507.8 598.52,509.29 599.41,510.79 600.31,512.28 601.2,509.29 602.1,504.81 603,503.32 603.89,504.81 604.79,501.82 605.69,501.82 606.58,503.32 607.48,504.81 608.38,501.82 609.27,500.33 610.17,499.58 611.07,500.33 611.96,501.82 612.86,500.33 613.76,503.32 614.65,506.31 615.55,507.8 616.44,509.29 617.34,504.81 618.24,502.57 619.13,501.82 620.03,503.32 620.93,507.05 621.82,507.8 622.72,508.55 623.62,509.29 624.51,508.55 625.41,507.05 626.31,506.31 627.2,504.81 628.1,501.82 629,501.08 629.89,500.33 630.79,501.82 631.68,501.08 632.58,501.82 633.48,503.32 634.37,501.82 635.27,501.82 636.17,501.82 637.06,504.81 637.96,503.32 638.86,501.82 639.75,502.57 640.65,503.32 641.55,504.06 642.44,504.81 643.34,501.82 643.94,504.81 644.83,513.78 645.43,519.75 646.03,524.24 646.63,534.69 647.22,545.15 647.82,554.12 648.42,560.09 649.32,563.08 650.21,564.58 651.11,570.55" stroke="#231f20" stroke-width="1.35" fill="none" stroke-linejoin="round" stroke-linecap="round"/>
<path d="M577,546.65 577.6,540.67 578.2,531.71 579.09,524.24 579.99,519.75 580.88,518.26 582.08,516.76 583.28,517.51 584.47,519.75 585.67,521.25 586.56,519.75 587.46,513.78 588.36,507.8 589.25,505.56 590.15,505.56 591.04,506.31 591.94,507.8 592.84,506.31 593.73,504.81 594.63,506.31 595.53,516.76 596.42,521.25 597.32,516.76 598.22,513.78 599.11,510.79 600.01,501.82 600.91,493.61 601.8,494.35 602.7,500.33 603.6,501.82 604.49,503.32 605.39,510.79 606.28,519.75 607.18,513.78 608.08,503.32 608.97,496.59 609.87,497.34 610.77,506.31 611.66,509.29 612.56,512.28 613.46,513.78 614.35,509.29 615.25,512.28 616.15,519.75 617.04,513.78 617.94,506.31 618.84,506.31 619.73,507.8 620.63,510.79 621.52,515.27 622.12,506.31 623.02,495.85 623.92,495.1 624.81,495.85 625.71,495.1 626.6,492.86 627.5,493.61 628.4,498.84 629.29,500.33 630.19,501.82 631.09,503.32 631.98,504.81 632.88,506.31 633.78,507.8 634.67,504.81 635.57,501.82 636.47,512.28 637.36,506.31 638.26,503.32 639.16,501.82 640.05,500.33 640.95,498.09 641.84,503.32 642.44,506.31 643.04,503.32 643.64,500.33 644.24,506.31 644.83,512.28 645.43,519.75 646.03,524.24 646.63,534.69 647.22,545.15 647.82,554.12 648.42,560.09 649.32,563.08 650.21,564.58 651.11,570.55 651.71,572.05" stroke="#e8202a" stroke-width="1.35" fill="none" stroke-linejoin="round" stroke-linecap="round"/>
<path d="M577.5 457.4v-5.6M577.5 583.8v5.6M610.5 457.4v-5.6M610.5 583.8v5.6M642.5 457.4v-5.6M642.5 583.8v5.6M675.5 457.4v-5.6M675.5 583.8v5.6M577.58 583.5h-5.6M675.68 583.5h5.6M577.58 552.5h-5.6M675.68 552.5h5.6M577.58 520.5h-5.6M675.68 520.5h5.6M577.58 488.5h-5.6M675.68 488.5h5.6M577.58 457.5h-5.6M675.68 457.5h5.6" stroke="#231f20" stroke-width="0.9" fill="none"/>
<path d="M587.5 457.4v-2.8M587.5 583.8v2.8M593.5 457.4v-2.8M593.5 583.8v2.8M597.5 457.4v-2.8M597.5 583.8v2.8M600.5 457.4v-2.8M600.5 583.8v2.8M603.5 457.4v-2.8M603.5 583.8v2.8M605.5 457.4v-2.8M605.5 583.8v2.8M607.5 457.4v-2.8M607.5 583.8v2.8M608.5 457.4v-2.8M608.5 583.8v2.8M620.5 457.4v-2.8M620.5 583.8v2.8M625.5 457.4v-2.8M625.5 583.8v2.8M629.5 457.4v-2.8M629.5 583.8v2.8M633.5 457.4v-2.8M633.5 583.8v2.8M635.5 457.4v-2.8M635.5 583.8v2.8M637.5 457.4v-2.8M637.5 583.8v2.8M639.5 457.4v-2.8M639.5 583.8v2.8M641.5 457.4v-2.8M641.5 583.8v2.8M652.5 457.4v-2.8M652.5 583.8v2.8M658.5 457.4v-2.8M658.5 583.8v2.8M662.5 457.4v-2.8M662.5 583.8v2.8M665.5 457.4v-2.8M665.5 583.8v2.8M668.5 457.4v-2.8M668.5 583.8v2.8M670.5 457.4v-2.8M670.5 583.8v2.8M672.5 457.4v-2.8M672.5 583.8v2.8M674.5 457.4v-2.8M674.5 583.8v2.8M577.58 574.5h-2.8M675.68 574.5h2.8M577.58 568.5h-2.8M675.68 568.5h2.8M577.58 564.5h-2.8M675.68 564.5h2.8M577.58 561.5h-2.8M675.68 561.5h2.8M577.58 559.5h-2.8M675.68 559.5h2.8M577.58 557.5h-2.8M675.68 557.5h2.8M577.58 555.5h-2.8M675.68 555.5h2.8M577.58 553.5h-2.8M675.68 553.5h2.8M577.58 542.5h-2.8M675.68 542.5h2.8M577.58 537.5h-2.8M675.68 537.5h2.8M577.58 533.5h-2.8M675.68 533.5h2.8M577.58 530.5h-2.8M675.68 530.5h2.8M577.58 527.5h-2.8M675.68 527.5h2.8M577.58 525.5h-2.8M675.68 525.5h2.8M577.58 523.5h-2.8M675.68 523.5h2.8M577.58 522.5h-2.8M675.68 522.5h2.8M577.58 511.5h-2.8M675.68 511.5h2.8M577.58 505.5h-2.8M675.68 505.5h2.8M577.58 501.5h-2.8M675.68 501.5h2.8M577.58 498.5h-2.8M675.68 498.5h2.8M577.58 496.5h-2.8M675.68 496.5h2.8M577.58 493.5h-2.8M675.68 493.5h2.8M577.58 492.5h-2.8M675.68 492.5h2.8M577.58 490.5h-2.8M675.68 490.5h2.8M577.58 479.5h-2.8M675.68 479.5h2.8M577.58 473.5h-2.8M675.68 473.5h2.8M577.58 469.5h-2.8M675.68 469.5h2.8M577.58 466.5h-2.8M675.68 466.5h2.8M577.58 464.5h-2.8M675.68 464.5h2.8M577.58 462.5h-2.8M675.68 462.5h2.8M577.58 460.5h-2.8M675.68 460.5h2.8M577.58 458.5h-2.8M675.68 458.5h2.8" stroke="#231f20" stroke-width="0.75" fill="none"/>
<rect x="577.58" y="457.4" width="98.1" height="126.4" stroke="#231f20" stroke-width="1.4" fill="none"/>
<text transform="translate(604.37 447.5) scale(1.0 1)" class="t" xml:space="preserve">G02</text>
<path class="o" d="M359 0H273V503H101V565C222 573 263 600 291 703H359Z" transform="translate(627.05 447.5) scale(0.01200 -0.01200)"/>
<text transform="translate(633.73 447.5) scale(1.0 1)" class="t" xml:space="preserve"> EW</text>
<path class="o" d="M359 0H273V503H101V565C222 573 263 600 291 703H359Z" transform="translate(567.63 603.3) scale(0.01230 -0.01150)"/>
<text transform="translate(574.47 603.3) scale(1.07 1)" class="l" xml:space="preserve">0</text>
<text transform="translate(580.12 598.9) scale(1.07 1)" class="s" xml:space="preserve">-</text>
<path class="o" d="M359 0H273V503H101V565C222 573 263 600 291 703H359Z" transform="translate(583.17 598.9) scale(0.00856 -0.00800)"/>
<path class="o" d="M359 0H273V503H101V565C222 573 263 600 291 703H359Z" transform="translate(601.66 603.3) scale(0.01230 -0.01150)"/>
<text transform="translate(608.5 603.3) scale(1.07 1)" class="l" xml:space="preserve">0</text>
<text transform="translate(614.54 598.9) scale(1.07 1)" class="s" xml:space="preserve">0</text>
<path class="o" d="M359 0H273V503H101V565C222 573 263 600 291 703H359Z" transform="translate(634.16 603.3) scale(0.01230 -0.01150)"/>
<text transform="translate(641 603.3) scale(1.07 1)" class="l" xml:space="preserve">0</text>
<path class="o" d="M359 0H273V503H101V565C222 573 263 600 291 703H359Z" transform="translate(647.44 598.9) scale(0.00856 -0.00800)"/>
<path class="o" d="M359 0H273V503H101V565C222 573 263 600 291 703H359Z" transform="translate(667.06 603.3) scale(0.01230 -0.01150)"/>
<text transform="translate(673.9 603.3) scale(1.07 1)" class="l" xml:space="preserve">0</text>
<text transform="translate(679.94 598.9) scale(1.07 1)" class="s" xml:space="preserve">2</text>
<text transform="translate(577.11 621.5) scale(1.02 1)" class="ax">Frequency (Hz)</text>
<text transform="translate(33.3 514.15) scale(1.008 1) rotate(-90)" class="ax" style="font-size:15.82px" text-anchor="middle">Acc. Spectra (cm/s)</text>
<path d="M104.5 682.07V808.37M137.5 682.07V808.37M71.7 713.5H169.8M71.7 745.5H169.8M71.7 776.5H169.8" stroke="#231f20" stroke-opacity="0.7" stroke-width="1" fill="none"/>
<path d="M71,776.13 71.9,765.67 72.79,755.21 73.69,747.74 74.59,741.76 75.48,738.78 76.38,736.54 77.28,735.79 78.17,738.78 79.07,743.26 79.96,749.24 80.86,741.76 81.76,734.29 82.65,732.8 83.55,733.55 84.45,735.04 85.34,737.28 86.24,740.27 87.14,744.75 88.03,750.73 88.63,752.22 89.23,744.75 90.12,734.29 91.02,733.55 91.92,738.78 92.81,741.76 93.71,740.27 94.61,737.28 95.5,734.29 96.4,731.31 97.3,729.06 98.19,732.8 99.09,737.28 99.99,740.27 100.88,735.79 101.78,729.81 102.68,726.82 103.57,726.82 104.47,726.08 105.36,724.58 106.26,725.33 107.16,723.84 108.05,720.85 108.95,714.87 109.85,711.14 110.74,711.88 111.64,713.38 112.54,708.89 113.43,705.91 114.33,708.89 115.23,713.38 116.12,718.61 117.02,717.86 117.92,717.11 118.81,722.34 119.71,729.81 120.6,735.79 121.5,733.55 122.4,729.81 123.29,726.82 124.19,734.29 125.09,738.78 125.98,740.27 126.88,739.52 127.78,741.76 128.67,744.75 129.57,747.74 130.47,750.73 131.36,747.74 132.26,744.75 133.16,749.24 134.05,755.21 134.95,758.2 135.84,756.71 136.74,761.19 137.64,762.68 138.53,765.67 139.13,771.65 139.73,777.62 140.33,786.59 140.92,794.06 141.52,801.53 142.12,806.01 143.02,807.51 144.21,806.01 145.71,805.26" stroke="#231f20" stroke-width="1.35" fill="none" stroke-linejoin="round" stroke-linecap="round"/>
<path d="M71,776.43 71.75,768.66 72.49,758.2 73.39,749.24 74.29,741.76 75.18,738.03 76.38,735.04 77.57,733.55 78.77,732.5 79.96,732.5 81.16,733.55 82.06,732.8 82.95,732.05 83.85,729.81 84.75,728.32 85.64,729.81 86.54,732.05 87.44,732.8 88.33,732.8 89.23,735.79 90.12,744.75 91.02,747.74 91.92,749.24 92.81,752.97 93.71,750.73 94.61,741.76 95.5,735.79 96.4,738.78 97.3,749.24 98.19,741.76 99.09,731.31 99.99,732.8 100.88,741.76 101.78,744.75 102.68,738.78 103.57,731.31 104.47,734.29 105.36,741.76 106.26,735.79 107.16,728.32 108.05,729.81 108.95,732.8 109.85,737.28 110.74,728.32 111.64,723.84 112.54,717.86 113.43,714.12 114.33,714.87 115.23,722.34 115.82,731.31 116.72,725.33 117.62,722.34 118.51,726.82 119.41,731.31 120.31,735.79 121.2,740.27 122.1,741.76 123,737.28 123.59,728.32 124.19,724.58 124.79,731.31 125.68,738.78 126.58,741.76 127.48,744.75 128.37,752.22 128.97,758.2 129.87,750.73 130.76,743.26 131.66,749.24 132.56,753.72 133.45,758.2 134.35,747.74 135.25,743.26 136.14,750.73 136.74,761.19 137.64,764.92 138.24,759.69 139.13,768.66 139.73,777.62 140.33,786.59 140.92,794.06 141.52,800.04 142.12,804.52 142.72,808.25" stroke="#e8202a" stroke-width="1.35" fill="none" stroke-linejoin="round" stroke-linecap="round"/>
<path d="M71.5 682.07v-5.6M71.5 808.37v5.6M104.5 682.07v-5.6M104.5 808.37v5.6M137.5 682.07v-5.6M137.5 808.37v5.6M169.5 682.07v-5.6M169.5 808.37v5.6M71.7 808.5h-5.6M169.8 808.5h5.6M71.7 776.5h-5.6M169.8 776.5h5.6M71.7 745.5h-5.6M169.8 745.5h5.6M71.7 713.5h-5.6M169.8 713.5h5.6M71.7 682.5h-5.6M169.8 682.5h5.6" stroke="#231f20" stroke-width="0.9" fill="none"/>
<path d="M81.5 682.07v-2.8M81.5 808.37v2.8M87.5 682.07v-2.8M87.5 808.37v2.8M91.5 682.07v-2.8M91.5 808.37v2.8M94.5 682.07v-2.8M94.5 808.37v2.8M97.5 682.07v-2.8M97.5 808.37v2.8M99.5 682.07v-2.8M99.5 808.37v2.8M101.5 682.07v-2.8M101.5 808.37v2.8M102.5 682.07v-2.8M102.5 808.37v2.8M114.5 682.07v-2.8M114.5 808.37v2.8M120.5 682.07v-2.8M120.5 808.37v2.8M124.5 682.07v-2.8M124.5 808.37v2.8M127.5 682.07v-2.8M127.5 808.37v2.8M129.5 682.07v-2.8M129.5 808.37v2.8M132.5 682.07v-2.8M132.5 808.37v2.8M133.5 682.07v-2.8M133.5 808.37v2.8M135.5 682.07v-2.8M135.5 808.37v2.8M146.5 682.07v-2.8M146.5 808.37v2.8M152.5 682.07v-2.8M152.5 808.37v2.8M156.5 682.07v-2.8M156.5 808.37v2.8M159.5 682.07v-2.8M159.5 808.37v2.8M162.5 682.07v-2.8M162.5 808.37v2.8M164.5 682.07v-2.8M164.5 808.37v2.8M166.5 682.07v-2.8M166.5 808.37v2.8M168.5 682.07v-2.8M168.5 808.37v2.8M71.7 798.5h-2.8M169.8 798.5h2.8M71.7 793.5h-2.8M169.8 793.5h2.8M71.7 789.5h-2.8M169.8 789.5h2.8M71.7 786.5h-2.8M169.8 786.5h2.8M71.7 783.5h-2.8M169.8 783.5h2.8M71.7 781.5h-2.8M169.8 781.5h2.8M71.7 779.5h-2.8M169.8 779.5h2.8M71.7 778.5h-2.8M169.8 778.5h2.8M71.7 767.5h-2.8M169.8 767.5h2.8M71.7 761.5h-2.8M169.8 761.5h2.8M71.7 757.5h-2.8M169.8 757.5h2.8M71.7 754.5h-2.8M169.8 754.5h2.8M71.7 752.5h-2.8M169.8 752.5h2.8M71.7 750.5h-2.8M169.8 750.5h2.8M71.7 748.5h-2.8M169.8 748.5h2.8M71.7 746.5h-2.8M169.8 746.5h2.8M71.7 735.5h-2.8M169.8 735.5h2.8M71.7 730.5h-2.8M169.8 730.5h2.8M71.7 726.5h-2.8M169.8 726.5h2.8M71.7 723.5h-2.8M169.8 723.5h2.8M71.7 720.5h-2.8M169.8 720.5h2.8M71.7 718.5h-2.8M169.8 718.5h2.8M71.7 716.5h-2.8M169.8 716.5h2.8M71.7 715.5h-2.8M169.8 715.5h2.8M71.7 704.5h-2.8M169.8 704.5h2.8M71.7 698.5h-2.8M169.8 698.5h2.8M71.7 694.5h-2.8M169.8 694.5h2.8M71.7 691.5h-2.8M169.8 691.5h2.8M71.7 689.5h-2.8M169.8 689.5h2.8M71.7 686.5h-2.8M169.8 686.5h2.8M71.7 685.5h-2.8M169.8 685.5h2.8M71.7 683.5h-2.8M169.8 683.5h2.8" stroke="#231f20" stroke-width="0.75" fill="none"/>
<rect x="71.7" y="682.07" width="98.1" height="126.3" stroke="#231f20" stroke-width="1.4" fill="none"/>
<text transform="translate(100.15 672.17) scale(1.0 1)" class="t" xml:space="preserve">C</text>
<path class="o" d="M359 0H273V503H101V565C222 573 263 600 291 703H359Z" transform="translate(108.82 672.17) scale(0.01200 -0.01200)"/>
<text transform="translate(115.49 672.17) scale(1.0 1)" class="t" xml:space="preserve">2</text>
<path class="o" d="M359 0H273V503H101V565C222 573 263 600 291 703H359Z" transform="translate(122.17 672.17) scale(0.01200 -0.01200)"/>
<text transform="translate(128.84 672.17) scale(1.0 1)" class="t" xml:space="preserve"> NS</text>
<path class="o" d="M359 0H273V503H101V565C222 573 263 600 291 703H359Z" transform="translate(41.1 812.47) scale(0.01230 -0.01150)"/>
<text transform="translate(47.94 812.47) scale(1.07 1)" class="l" xml:space="preserve">0</text>
<text transform="translate(53.59 808.07) scale(1.07 1)" class="s" xml:space="preserve">-</text>
<path class="o" d="M359 0H273V503H101V565C222 573 263 600 291 703H359Z" transform="translate(56.64 808.07) scale(0.00856 -0.00800)"/>
<path class="o" d="M359 0H273V503H101V565C222 573 263 600 291 703H359Z" transform="translate(43.25 780.89) scale(0.01230 -0.01150)"/>
<text transform="translate(50.09 780.89) scale(1.07 1)" class="l" xml:space="preserve">0</text>
<text transform="translate(56.14 776.5) scale(1.07 1)" class="s" xml:space="preserve">0</text>
<path class="o" d="M359 0H273V503H101V565C222 573 263 600 291 703H359Z" transform="translate(43.35 749.32) scale(0.01230 -0.01150)"/>
<text transform="translate(50.19 749.32) scale(1.07 1)" class="l" xml:space="preserve">0</text>
<path class="o" d="M359 0H273V503H101V565C222 573 263 600 291 703H359Z" transform="translate(56.64 744.92) scale(0.00856 -0.00800)"/>
<path class="o" d="M359 0H273V503H101V565C222 573 263 600 291 703H359Z" transform="translate(43.25 717.75) scale(0.01230 -0.01150)"/>
<text transform="translate(50.09 717.75) scale(1.07 1)" class="l" xml:space="preserve">0</text>
<text transform="translate(56.14 713.35) scale(1.07 1)" class="s" xml:space="preserve">2</text>
<path class="o" d="M359 0H273V503H101V565C222 573 263 600 291 703H359Z" transform="translate(43.25 686.17) scale(0.01230 -0.01150)"/>
<text transform="translate(50.09 686.17) scale(1.07 1)" class="l" xml:space="preserve">0</text>
<text transform="translate(56.14 681.77) scale(1.07 1)" class="s" xml:space="preserve">3</text>
<path class="o" d="M359 0H273V503H101V565C222 573 263 600 291 703H359Z" transform="translate(61.75 827.87) scale(0.01230 -0.01150)"/>
<text transform="translate(68.59 827.87) scale(1.07 1)" class="l" xml:space="preserve">0</text>
<text transform="translate(74.24 823.47) scale(1.07 1)" class="s" xml:space="preserve">-</text>
<path class="o" d="M359 0H273V503H101V565C222 573 263 600 291 703H359Z" transform="translate(77.29 823.47) scale(0.00856 -0.00800)"/>
<path class="o" d="M359 0H273V503H101V565C222 573 263 600 291 703H359Z" transform="translate(95.78 827.87) scale(0.01230 -0.01150)"/>
<text transform="translate(102.62 827.87) scale(1.07 1)" class="l" xml:space="preserve">0</text>
<text transform="translate(108.66 823.47) scale(1.07 1)" class="s" xml:space="preserve">0</text>
<path class="o" d="M359 0H273V503H101V565C222 573 263 600 291 703H359Z" transform="translate(128.28 827.87) scale(0.01230 -0.01150)"/>
<text transform="translate(135.12 827.87) scale(1.07 1)" class="l" xml:space="preserve">0</text>
<path class="o" d="M359 0H273V503H101V565C222 573 263 600 291 703H359Z" transform="translate(141.56 823.47) scale(0.00856 -0.00800)"/>
<path class="o" d="M359 0H273V503H101V565C222 573 263 600 291 703H359Z" transform="translate(161.18 827.87) scale(0.01230 -0.01150)"/>
<text transform="translate(168.02 827.87) scale(1.07 1)" class="l" xml:space="preserve">0</text>
<text transform="translate(174.06 823.47) scale(1.07 1)" class="s" xml:space="preserve">2</text>
<text transform="translate(71.23 846.07) scale(1.02 1)" class="ax">Frequency (Hz)</text>
<path d="M230.5 682.07V808.37M263.5 682.07V808.37M198.17 713.5H296.27M198.17 745.5H296.27M198.17 776.5H296.27" stroke="#231f20" stroke-opacity="0.7" stroke-width="1" fill="none"/>
<path d="M198,744.75 198.9,741.76 199.79,739.52 200.69,738.48 201.59,738.78 202.48,743.26 203.38,750.73 203.98,752.22 204.87,744.75 205.77,737.28 206.67,731.31 207.56,725.33 208.46,719.35 209.36,717.11 210.25,716.36 211.15,713.38 212.04,710.39 212.94,709.64 213.84,711.14 214.73,712.63 215.63,709.64 216.53,708.6 217.42,709.64 218.32,713.38 219.22,717.86 220.11,719.35 221.01,720.85 221.91,720.1 222.8,721.59 223.7,726.08 224.6,721.59 225.49,717.86 226.39,719.35 227.28,715.62 228.18,708.89 229.08,705.91 229.97,704.41 230.87,701.42 231.77,698.44 232.66,697.69 233.56,702.92 234.46,701.42 235.35,700.68 236.25,701.42 237.15,705.16 238.04,707.4 238.94,708.15 239.84,705.91 240.73,704.41 241.63,704.11 242.52,705.16 243.42,706.65 244.32,708.89 245.21,710.39 246.11,711.88 247.01,716.36 247.9,717.86 248.8,722.34 249.7,726.82 250.59,722.34 251.49,722.34 252.39,723.09 253.28,723.84 254.18,724.58 255.08,728.32 255.97,731.31 256.87,727.57 257.76,725.33 258.66,728.32 259.56,731.31 260.45,734.29 261.35,737.28 262.25,738.03 263.14,741.02 263.74,744.75 264.64,746.25 265.53,750.73 266.13,759.69 266.73,768.66 267.33,777.62 268.22,786.59 269.12,789.58 270.32,791.07 271.21,792.56 272.11,793.76" stroke="#231f20" stroke-width="1.35" fill="none" stroke-linejoin="round" stroke-linecap="round"/>
<path d="M198,765.67 198.9,759.69 199.79,753.72 200.69,747.74 201.59,743.26 202.48,738.78 203.38,735.79 204.28,733.55 205.17,732.8 206.07,729.81 206.96,726.82 207.86,724.58 208.76,725.33 209.65,728.32 210.55,731.31 211.45,732.05 212.34,728.32 213.24,720.85 214.14,717.86 215.03,718.61 215.93,722.34 216.83,726.82 217.72,732.8 218.62,735.79 219.22,741.76 219.81,743.26 220.41,732.8 221.31,722.34 222.2,719.35 223.1,714.87 223.7,709.64 224.3,708.15 225.19,713.38 226.09,719.35 226.99,720.85 227.88,725.33 228.78,723.84 229.68,710.39 230.57,706.65 231.47,708.89 232.07,723.84 232.66,731.31 233.56,725.33 234.46,717.86 235.35,719.35 236.25,716.36 237.15,711.88 238.04,705.91 238.64,711.88 239.24,723.84 240.13,722.34 241.03,717.86 241.63,705.91 242.23,700.68 243.12,698.44 244.02,704.41 244.92,707.4 245.81,708.89 246.71,710.39 247.6,705.91 248.5,714.87 249.4,726.82 250.29,714.87 250.89,701.42 251.49,705.91 252.39,710.39 253.28,707.4 254.18,710.39 254.78,716.36 255.67,719.35 256.57,715.62 257.47,719.35 258.36,723.84 259.26,725.33 260.16,724.58 261.05,726.82 261.95,728.32 262.84,732.8 263.74,725.33 264.64,726.82 265.24,735.79 265.83,744.75 266.43,755.21 267.03,765.67 267.63,773.14 268.52,780.61 269.42,785.09 270.32,786.59 271.21,789.58 272.11,792.56" stroke="#e8202a" stroke-width="1.35" fill="none" stroke-linejoin="round" stroke-linecap="round"/>
<path d="M198.5 682.07v-5.6M198.5 808.37v5.6M230.5 682.07v-5.6M230.5 808.37v5.6M263.5 682.07v-5.6M263.5 808.37v5.6M296.5 682.07v-5.6M296.5 808.37v5.6M198.17 808.5h-5.6M296.27 808.5h5.6M198.17 776.5h-5.6M296.27 776.5h5.6M198.17 745.5h-5.6M296.27 745.5h5.6M198.17 713.5h-5.6M296.27 713.5h5.6M198.17 682.5h-5.6M296.27 682.5h5.6" stroke="#231f20" stroke-width="0.9" fill="none"/>
<path d="M208.5 682.07v-2.8M208.5 808.37v2.8M213.5 682.07v-2.8M213.5 808.37v2.8M217.5 682.07v-2.8M217.5 808.37v2.8M221.5 682.07v-2.8M221.5 808.37v2.8M223.5 682.07v-2.8M223.5 808.37v2.8M225.5 682.07v-2.8M225.5 808.37v2.8M227.5 682.07v-2.8M227.5 808.37v2.8M229.5 682.07v-2.8M229.5 808.37v2.8M240.5 682.07v-2.8M240.5 808.37v2.8M246.5 682.07v-2.8M246.5 808.37v2.8M250.5 682.07v-2.8M250.5 808.37v2.8M253.5 682.07v-2.8M253.5 808.37v2.8M256.5 682.07v-2.8M256.5 808.37v2.8M258.5 682.07v-2.8M258.5 808.37v2.8M260.5 682.07v-2.8M260.5 808.37v2.8M262.5 682.07v-2.8M262.5 808.37v2.8M273.5 682.07v-2.8M273.5 808.37v2.8M279.5 682.07v-2.8M279.5 808.37v2.8M283.5 682.07v-2.8M283.5 808.37v2.8M286.5 682.07v-2.8M286.5 808.37v2.8M289.5 682.07v-2.8M289.5 808.37v2.8M291.5 682.07v-2.8M291.5 808.37v2.8M293.5 682.07v-2.8M293.5 808.37v2.8M294.5 682.07v-2.8M294.5 808.37v2.8M198.17 798.5h-2.8M296.27 798.5h2.8M198.17 793.5h-2.8M296.27 793.5h2.8M198.17 789.5h-2.8M296.27 789.5h2.8M198.17 786.5h-2.8M296.27 786.5h2.8M198.17 783.5h-2.8M296.27 783.5h2.8M198.17 781.5h-2.8M296.27 781.5h2.8M198.17 779.5h-2.8M296.27 779.5h2.8M198.17 778.5h-2.8M296.27 778.5h2.8M198.17 767.5h-2.8M296.27 767.5h2.8M198.17 761.5h-2.8M296.27 761.5h2.8M198.17 757.5h-2.8M296.27 757.5h2.8M198.17 754.5h-2.8M296.27 754.5h2.8M198.17 752.5h-2.8M296.27 752.5h2.8M198.17 750.5h-2.8M296.27 750.5h2.8M198.17 748.5h-2.8M296.27 748.5h2.8M198.17 746.5h-2.8M296.27 746.5h2.8M198.17 735.5h-2.8M296.27 735.5h2.8M198.17 730.5h-2.8M296.27 730.5h2.8M198.17 726.5h-2.8M296.27 726.5h2.8M198.17 723.5h-2.8M296.27 723.5h2.8M198.17 720.5h-2.8M296.27 720.5h2.8M198.17 718.5h-2.8M296.27 718.5h2.8M198.17 716.5h-2.8M296.27 716.5h2.8M198.17 715.5h-2.8M296.27 715.5h2.8M198.17 704.5h-2.8M296.27 704.5h2.8M198.17 698.5h-2.8M296.27 698.5h2.8M198.17 694.5h-2.8M296.27 694.5h2.8M198.17 691.5h-2.8M296.27 691.5h2.8M198.17 689.5h-2.8M296.27 689.5h2.8M198.17 686.5h-2.8M296.27 686.5h2.8M198.17 685.5h-2.8M296.27 685.5h2.8M198.17 683.5h-2.8M296.27 683.5h2.8" stroke="#231f20" stroke-width="0.75" fill="none"/>
<rect x="198.17" y="682.07" width="98.1" height="126.3" stroke="#231f20" stroke-width="1.4" fill="none"/>
<text transform="translate(227.29 672.17) scale(1.0 1)" class="t" xml:space="preserve">F004 NS</text>
<path class="o" d="M359 0H273V503H101V565C222 573 263 600 291 703H359Z" transform="translate(188.22 827.87) scale(0.01230 -0.01150)"/>
<text transform="translate(195.06 827.87) scale(1.07 1)" class="l" xml:space="preserve">0</text>
<text transform="translate(200.71 823.47) scale(1.07 1)" class="s" xml:space="preserve">-</text>
<path class="o" d="M359 0H273V503H101V565C222 573 263 600 291 703H359Z" transform="translate(203.76 823.47) scale(0.00856 -0.00800)"/>
<path class="o" d="M359 0H273V503H101V565C222 573 263 600 291 703H359Z" transform="translate(222.25 827.87) scale(0.01230 -0.01150)"/>
<text transform="translate(229.09 827.87) scale(1.07 1)" class="l" xml:space="preserve">0</text>
<text transform="translate(235.13 823.47) scale(1.07 1)" class="s" xml:space="preserve">0</text>
<path class="o" d="M359 0H273V503H101V565C222 573 263 600 291 703H359Z" transform="translate(254.75 827.87) scale(0.01230 -0.01150)"/>
<text transform="translate(261.59 827.87) scale(1.07 1)" class="l" xml:space="preserve">0</text>
<path class="o" d="M359 0H273V503H101V565C222 573 263 600 291 703H359Z" transform="translate(268.03 823.47) scale(0.00856 -0.00800)"/>
<path class="o" d="M359 0H273V503H101V565C222 573 263 600 291 703H359Z" transform="translate(287.65 827.87) scale(0.01230 -0.01150)"/>
<text transform="translate(294.49 827.87) scale(1.07 1)" class="l" xml:space="preserve">0</text>
<text transform="translate(300.53 823.47) scale(1.07 1)" class="s" xml:space="preserve">2</text>
<text transform="translate(197.7 846.07) scale(1.02 1)" class="ax">Frequency (Hz)</text>
<path d="M357.5 682.07V808.37M390.5 682.07V808.37M324.64 713.5H422.74M324.64 745.5H422.74M324.64 776.5H422.74" stroke="#231f20" stroke-opacity="0.7" stroke-width="1" fill="none"/>
<path d="M324,759.69 324.9,747.74 325.79,738.78 326.69,732.8 327.59,728.32 328.48,726.08 329.38,724.58 330.28,724.58 331.17,725.33 332.07,726.82 332.96,729.81 333.86,734.29 334.76,736.54 335.65,732.8 336.55,726.82 337.45,723.09 338.34,721.59 339.24,725.33 340.14,728.32 341.03,729.06 341.93,729.81 342.83,732.8 343.72,736.54 344.62,732.8 345.52,729.81 346.41,732.05 347.31,734.29 348.2,723.84 349.1,716.36 350,713.38 350.89,719.35 351.79,735.04 352.39,732.8 353.28,726.82 354.18,720.85 355.08,716.36 355.97,719.35 356.87,726.82 357.77,723.84 358.66,720.85 359.56,719.35 360.46,717.86 361.35,718.61 362.25,714.87 363.15,711.88 364.04,713.38 364.94,710.39 365.84,708.89 366.73,713.38 367.63,716.36 368.52,719.35 369.42,720.85 370.32,725.33 371.21,726.82 372.11,723.84 373.01,720.1 373.9,717.86 374.8,719.35 375.7,722.34 376.59,723.84 377.49,725.33 378.39,726.82 379.28,728.32 380.18,729.81 381.08,729.06 381.97,731.31 382.87,734.29 383.76,731.31 384.66,728.32 385.56,726.82 386.45,729.81 387.35,734.29 388.25,738.78 389.14,743.26 389.74,746.25 390.64,747.74 391.53,749.24 392.13,752.22 392.73,762.68 393.33,771.65 393.92,780.61 394.82,789.58 395.72,795.55 396.61,797.79 397.51,798.54 398.41,800.04" stroke="#231f20" stroke-width="1.35" fill="none" stroke-linejoin="round" stroke-linecap="round"/>
<path d="M324,762.68 324.9,752.22 325.79,741.76 326.69,733.55 327.59,728.32 328.48,725.33 329.38,723.09 330.28,721.15 331.47,720.55 332.67,721.59 333.86,723.84 334.76,725.33 335.65,726.08 336.55,725.33 337.45,723.09 338.34,721.59 339.24,719.35 340.14,716.36 341.03,714.87 341.93,715.62 342.83,714.12 343.72,712.63 344.62,711.88 345.52,711.88 346.41,712.63 347.31,713.38 348.2,717.86 349.1,719.35 350,722.34 350.89,723.84 351.79,728.32 352.69,725.33 353.58,729.81 354.48,734.29 355.38,726.82 356.27,719.35 356.87,711.88 357.47,708.89 358.36,713.38 359.26,722.34 359.86,711.88 360.76,702.92 361.65,701.42 362.55,701.42 363.44,702.17 364.04,711.88 364.64,717.86 365.54,719.35 366.43,720.85 367.33,716.36 368.23,705.91 369.12,702.92 369.72,707.4 370.32,714.12 371.21,710.39 372.11,705.91 373.01,704.41 373.6,701.42 374.2,704.41 374.8,714.87 375.7,717.11 376.59,728.32 377.49,725.33 378.39,722.34 379.28,726.82 380.18,728.32 381.08,725.33 381.97,728.32 382.87,726.82 383.76,723.84 384.66,720.85 385.26,714.87 385.86,719.35 386.45,726.82 387.35,722.34 388.25,725.33 388.84,729.81 389.44,738.78 390.04,746.25 390.94,746.99 391.83,747.74 392.43,752.22 393.03,762.68 393.63,771.65 394.22,779.12 395.12,786.59 396.02,789.58 396.91,790.32 397.81,791.07 398.41,791.82" stroke="#e8202a" stroke-width="1.35" fill="none" stroke-linejoin="round" stroke-linecap="round"/>
<path d="M324.5 682.07v-5.6M324.5 808.37v5.6M357.5 682.07v-5.6M357.5 808.37v5.6M390.5 682.07v-5.6M390.5 808.37v5.6M422.5 682.07v-5.6M422.5 808.37v5.6M324.64 808.5h-5.6M422.74 808.5h5.6M324.64 776.5h-5.6M422.74 776.5h5.6M324.64 745.5h-5.6M422.74 745.5h5.6M324.64 713.5h-5.6M422.74 713.5h5.6M324.64 682.5h-5.6M422.74 682.5h5.6" stroke="#231f20" stroke-width="0.9" fill="none"/>
<path d="M334.5 682.07v-2.8M334.5 808.37v2.8M340.5 682.07v-2.8M340.5 808.37v2.8M344.5 682.07v-2.8M344.5 808.37v2.8M347.5 682.07v-2.8M347.5 808.37v2.8M350.5 682.07v-2.8M350.5 808.37v2.8M352.5 682.07v-2.8M352.5 808.37v2.8M354.5 682.07v-2.8M354.5 808.37v2.8M355.5 682.07v-2.8M355.5 808.37v2.8M367.5 682.07v-2.8M367.5 808.37v2.8M372.5 682.07v-2.8M372.5 808.37v2.8M377.5 682.07v-2.8M377.5 808.37v2.8M380.5 682.07v-2.8M380.5 808.37v2.8M382.5 682.07v-2.8M382.5 808.37v2.8M384.5 682.07v-2.8M384.5 808.37v2.8M386.5 682.07v-2.8M386.5 808.37v2.8M388.5 682.07v-2.8M388.5 808.37v2.8M399.5 682.07v-2.8M399.5 808.37v2.8M405.5 682.07v-2.8M405.5 808.37v2.8M409.5 682.07v-2.8M409.5 808.37v2.8M412.5 682.07v-2.8M412.5 808.37v2.8M415.5 682.07v-2.8M415.5 808.37v2.8M417.5 682.07v-2.8M417.5 808.37v2.8M419.5 682.07v-2.8M419.5 808.37v2.8M421.5 682.07v-2.8M421.5 808.37v2.8M324.64 798.5h-2.8M422.74 798.5h2.8M324.64 793.5h-2.8M422.74 793.5h2.8M324.64 789.5h-2.8M422.74 789.5h2.8M324.64 786.5h-2.8M422.74 786.5h2.8M324.64 783.5h-2.8M422.74 783.5h2.8M324.64 781.5h-2.8M422.74 781.5h2.8M324.64 779.5h-2.8M422.74 779.5h2.8M324.64 778.5h-2.8M422.74 778.5h2.8M324.64 767.5h-2.8M422.74 767.5h2.8M324.64 761.5h-2.8M422.74 761.5h2.8M324.64 757.5h-2.8M422.74 757.5h2.8M324.64 754.5h-2.8M422.74 754.5h2.8M324.64 752.5h-2.8M422.74 752.5h2.8M324.64 750.5h-2.8M422.74 750.5h2.8M324.64 748.5h-2.8M422.74 748.5h2.8M324.64 746.5h-2.8M422.74 746.5h2.8M324.64 735.5h-2.8M422.74 735.5h2.8M324.64 730.5h-2.8M422.74 730.5h2.8M324.64 726.5h-2.8M422.74 726.5h2.8M324.64 723.5h-2.8M422.74 723.5h2.8M324.64 720.5h-2.8M422.74 720.5h2.8M324.64 718.5h-2.8M422.74 718.5h2.8M324.64 716.5h-2.8M422.74 716.5h2.8M324.64 715.5h-2.8M422.74 715.5h2.8M324.64 704.5h-2.8M422.74 704.5h2.8M324.64 698.5h-2.8M422.74 698.5h2.8M324.64 694.5h-2.8M422.74 694.5h2.8M324.64 691.5h-2.8M422.74 691.5h2.8M324.64 689.5h-2.8M422.74 689.5h2.8M324.64 686.5h-2.8M422.74 686.5h2.8M324.64 685.5h-2.8M422.74 685.5h2.8M324.64 683.5h-2.8M422.74 683.5h2.8" stroke="#231f20" stroke-width="0.75" fill="none"/>
<rect x="324.64" y="682.07" width="98.1" height="126.3" stroke="#231f20" stroke-width="1.4" fill="none"/>
<text transform="translate(352.76 672.17) scale(1.0 1)" class="t" xml:space="preserve">G0</text>
<path class="o" d="M359 0H273V503H101V565C222 573 263 600 291 703H359Z" transform="translate(368.77 672.17) scale(0.01200 -0.01200)"/>
<text transform="translate(375.44 672.17) scale(1.0 1)" class="t" xml:space="preserve">4 NS</text>
<path class="o" d="M359 0H273V503H101V565C222 573 263 600 291 703H359Z" transform="translate(314.69 827.87) scale(0.01230 -0.01150)"/>
<text transform="translate(321.53 827.87) scale(1.07 1)" class="l" xml:space="preserve">0</text>
<text transform="translate(327.18 823.47) scale(1.07 1)" class="s" xml:space="preserve">-</text>
<path class="o" d="M359 0H273V503H101V565C222 573 263 600 291 703H359Z" transform="translate(330.23 823.47) scale(0.00856 -0.00800)"/>
<path class="o" d="M359 0H273V503H101V565C222 573 263 600 291 703H359Z" transform="translate(348.72 827.87) scale(0.01230 -0.01150)"/>
<text transform="translate(355.56 827.87) scale(1.07 1)" class="l" xml:space="preserve">0</text>
<text transform="translate(361.6 823.47) scale(1.07 1)" class="s" xml:space="preserve">0</text>
<path class="o" d="M359 0H273V503H101V565C222 573 263 600 291 703H359Z" transform="translate(381.22 827.87) scale(0.01230 -0.01150)"/>
<text transform="translate(388.06 827.87) scale(1.07 1)" class="l" xml:space="preserve">0</text>
<path class="o" d="M359 0H273V503H101V565C222 573 263 600 291 703H359Z" transform="translate(394.5 823.47) scale(0.00856 -0.00800)"/>
<path class="o" d="M359 0H273V503H101V565C222 573 263 600 291 703H359Z" transform="translate(414.12 827.87) scale(0.01230 -0.01150)"/>
<text transform="translate(420.96 827.87) scale(1.07 1)" class="l" xml:space="preserve">0</text>
<text transform="translate(427 823.47) scale(1.07 1)" class="s" xml:space="preserve">2</text>
<text transform="translate(324.17 846.07) scale(1.02 1)" class="ax">Frequency (Hz)</text>
<path d="M483.5 682.07V808.37M516.5 682.07V808.37M451.11 713.5H549.21M451.11 745.5H549.21M451.11 776.5H549.21" stroke="#231f20" stroke-opacity="0.7" stroke-width="1" fill="none"/>
<path d="M451,753.72 451.9,747.74 452.79,741.76 453.69,735.79 454.59,732.05 455.48,729.81 456.38,729.06 457.28,728.32 458.17,727.57 459.07,726.82 459.96,726.82 460.86,727.12 461.76,727.57 462.65,728.32 463.55,731.31 464.45,735.79 465.34,732.8 466.24,729.81 467.14,731.31 468.03,732.8 468.93,729.81 469.83,726.82 470.72,725.33 471.62,727.57 472.52,726.82 473.41,726.08 474.31,728.32 475.2,747.74 475.8,741.76 476.4,734.29 477.3,731.31 478.19,726.82 479.09,724.58 479.99,725.33 480.88,732.8 481.78,738.78 482.68,731.31 483.57,729.81 484.47,732.8 485.36,731.31 486.26,728.32 487.16,726.82 488.05,727.57 488.95,728.32 489.85,729.81 490.74,725.33 491.64,721.59 492.54,720.1 493.43,720.85 494.33,723.84 495.23,726.82 496.12,725.33 497.02,722.34 497.92,724.58 498.81,726.82 499.71,723.09 500.6,720.85 501.5,726.82 502.4,736.54 503.29,735.79 504.19,732.8 505.09,735.79 505.98,737.28 506.88,734.29 507.78,732.8 508.67,738.78 509.57,744.75 510.47,747.74 511.36,744.75 512.26,747.74 513.16,750.73 514.05,752.22 514.95,753.72 515.84,755.21 516.74,755.96 517.64,758.2 518.53,762.68 519.13,768.66 519.73,777.62 520.33,786.59 520.92,795.55 521.52,801.53 522.12,806.01 522.72,808.25" stroke="#231f20" stroke-width="1.35" fill="none" stroke-linejoin="round" stroke-linecap="round"/>
<path d="M451,752.22 451.9,744.75 452.79,738.78 453.69,734.29 454.59,731.31 455.48,729.51 456.38,729.51 457.28,731.31 458.17,733.55 459.07,734.29 459.96,735.04 460.86,735.04 461.76,735.79 462.65,738.78 463.55,744.75 464.45,749.24 465.34,738.78 466.24,729.81 467.14,725.33 468.03,722.34 468.93,722.34 469.83,725.33 470.72,728.32 471.62,735.79 472.52,749.24 473.41,754.46 474.31,738.78 475.2,728.32 476.1,726.82 477,734.29 477.89,738.78 478.79,737.28 479.69,734.29 480.58,735.04 481.48,735.79 482.38,738.78 483.27,738.78 484.17,740.27 485.07,735.79 485.96,732.8 486.86,728.32 487.76,722.34 488.65,723.09 489.25,726.82 490.15,717.86 491.04,720.85 491.64,726.82 492.54,720.85 493.43,717.86 494.33,725.33 495.23,713.38 495.82,712.63 496.42,722.34 497.32,729.81 498.21,732.8 499.11,725.33 500.01,716.36 500.9,710.39 501.5,711.88 502.4,723.84 503.29,729.81 504.19,725.33 505.09,720.1 505.98,722.34 506.88,732.8 507.78,741.76 508.67,739.52 509.57,741.76 510.47,740.27 511.36,738.78 512.26,743.26 513.16,749.24 514.05,747.74 514.95,744.75 515.84,747.74 516.74,752.22 517.64,756.71 518.53,759.69 519.13,765.67 519.73,774.64 520.33,783.6 520.92,792.56 521.52,798.54 522.42,801.53 523.32,802.72 524.51,803.02 525.41,803.32" stroke="#e8202a" stroke-width="1.35" fill="none" stroke-linejoin="round" stroke-linecap="round"/>
<path d="M451.5 682.07v-5.6M451.5 808.37v5.6M483.5 682.07v-5.6M483.5 808.37v5.6M516.5 682.07v-5.6M516.5 808.37v5.6M549.5 682.07v-5.6M549.5 808.37v5.6M451.11 808.5h-5.6M549.21 808.5h5.6M451.11 776.5h-5.6M549.21 776.5h5.6M451.11 745.5h-5.6M549.21 745.5h5.6M451.11 713.5h-5.6M549.21 713.5h5.6M451.11 682.5h-5.6M549.21 682.5h5.6" stroke="#231f20" stroke-width="0.9" fill="none"/>
<path d="M460.5 682.07v-2.8M460.5 808.37v2.8M466.5 682.07v-2.8M466.5 808.37v2.8M470.5 682.07v-2.8M470.5 808.37v2.8M473.5 682.07v-2.8M473.5 808.37v2.8M476.5 682.07v-2.8M476.5 808.37v2.8M478.5 682.07v-2.8M478.5 808.37v2.8M480.5 682.07v-2.8M480.5 808.37v2.8M482.5 682.07v-2.8M482.5 808.37v2.8M493.5 682.07v-2.8M493.5 808.37v2.8M499.5 682.07v-2.8M499.5 808.37v2.8M503.5 682.07v-2.8M503.5 808.37v2.8M506.5 682.07v-2.8M506.5 808.37v2.8M509.5 682.07v-2.8M509.5 808.37v2.8M511.5 682.07v-2.8M511.5 808.37v2.8M513.5 682.07v-2.8M513.5 808.37v2.8M515.5 682.07v-2.8M515.5 808.37v2.8M526.5 682.07v-2.8M526.5 808.37v2.8M532.5 682.07v-2.8M532.5 808.37v2.8M536.5 682.07v-2.8M536.5 808.37v2.8M539.5 682.07v-2.8M539.5 808.37v2.8M541.5 682.07v-2.8M541.5 808.37v2.8M544.5 682.07v-2.8M544.5 808.37v2.8M546.5 682.07v-2.8M546.5 808.37v2.8M547.5 682.07v-2.8M547.5 808.37v2.8M451.11 798.5h-2.8M549.21 798.5h2.8M451.11 793.5h-2.8M549.21 793.5h2.8M451.11 789.5h-2.8M549.21 789.5h2.8M451.11 786.5h-2.8M549.21 786.5h2.8M451.11 783.5h-2.8M549.21 783.5h2.8M451.11 781.5h-2.8M549.21 781.5h2.8M451.11 779.5h-2.8M549.21 779.5h2.8M451.11 778.5h-2.8M549.21 778.5h2.8M451.11 767.5h-2.8M549.21 767.5h2.8M451.11 761.5h-2.8M549.21 761.5h2.8M451.11 757.5h-2.8M549.21 757.5h2.8M451.11 754.5h-2.8M549.21 754.5h2.8M451.11 752.5h-2.8M549.21 752.5h2.8M451.11 750.5h-2.8M549.21 750.5h2.8M451.11 748.5h-2.8M549.21 748.5h2.8M451.11 746.5h-2.8M549.21 746.5h2.8M451.11 735.5h-2.8M549.21 735.5h2.8M451.11 730.5h-2.8M549.21 730.5h2.8M451.11 726.5h-2.8M549.21 726.5h2.8M451.11 723.5h-2.8M549.21 723.5h2.8M451.11 720.5h-2.8M549.21 720.5h2.8M451.11 718.5h-2.8M549.21 718.5h2.8M451.11 716.5h-2.8M549.21 716.5h2.8M451.11 715.5h-2.8M549.21 715.5h2.8M451.11 704.5h-2.8M549.21 704.5h2.8M451.11 698.5h-2.8M549.21 698.5h2.8M451.11 694.5h-2.8M549.21 694.5h2.8M451.11 691.5h-2.8M549.21 691.5h2.8M451.11 689.5h-2.8M549.21 689.5h2.8M451.11 686.5h-2.8M549.21 686.5h2.8M451.11 685.5h-2.8M549.21 685.5h2.8M451.11 683.5h-2.8M549.21 683.5h2.8" stroke="#231f20" stroke-width="0.75" fill="none"/>
<rect x="451.11" y="682.07" width="98.1" height="126.3" stroke="#231f20" stroke-width="1.4" fill="none"/>
<text transform="translate(479.23 672.17) scale(1.0 1)" class="t" xml:space="preserve">G002 NS</text>
<path class="o" d="M359 0H273V503H101V565C222 573 263 600 291 703H359Z" transform="translate(441.16 827.87) scale(0.01230 -0.01150)"/>
<text transform="translate(448 827.87) scale(1.07 1)" class="l" xml:space="preserve">0</text>
<text transform="translate(453.65 823.47) scale(1.07 1)" class="s" xml:space="preserve">-</text>
<path class="o" d="M359 0H273V503H101V565C222 573 263 600 291 703H359Z" transform="translate(456.7 823.47) scale(0.00856 -0.00800)"/>
<path class="o" d="M359 0H273V503H101V565C222 573 263 600 291 703H359Z" transform="translate(475.19 827.87) scale(0.01230 -0.01150)"/>
<text transform="translate(482.03 827.87) scale(1.07 1)" class="l" xml:space="preserve">0</text>
<text transform="translate(488.07 823.47) scale(1.07 1)" class="s" xml:space="preserve">0</text>
<path class="o" d="M359 0H273V503H101V565C222 573 263 600 291 703H359Z" transform="translate(507.69 827.87) scale(0.01230 -0.01150)"/>
<text transform="translate(514.53 827.87) scale(1.07 1)" class="l" xml:space="preserve">0</text>
<path class="o" d="M359 0H273V503H101V565C222 573 263 600 291 703H359Z" transform="translate(520.97 823.47) scale(0.00856 -0.00800)"/>
<path class="o" d="M359 0H273V503H101V565C222 573 263 600 291 703H359Z" transform="translate(540.59 827.87) scale(0.01230 -0.01150)"/>
<text transform="translate(547.43 827.87) scale(1.07 1)" class="l" xml:space="preserve">0</text>
<text transform="translate(553.47 823.47) scale(1.07 1)" class="s" xml:space="preserve">2</text>
<text transform="translate(450.64 846.07) scale(1.02 1)" class="ax">Frequency (Hz)</text>
<path d="M610.5 682.07V808.37M642.5 682.07V808.37M577.58 713.5H675.68M577.58 745.5H675.68M577.58 776.5H675.68" stroke="#231f20" stroke-opacity="0.7" stroke-width="1" fill="none"/>
<path d="M577,762.68 577.9,755.21 578.79,747.74 579.69,743.26 580.59,740.27 581.48,738.78 582.38,737.28 583.28,735.04 584.17,732.8 585.07,728.32 585.96,725.33 586.86,725.33 587.76,726.82 588.65,731.31 589.55,734.29 590.45,732.8 591.34,733.55 592.24,731.31 593.14,735.79 594.03,737.28 594.93,740.27 595.53,744.01 596.12,740.27 597.02,734.29 597.92,729.81 598.81,731.31 599.71,737.28 600.61,731.31 601.5,725.33 602.4,722.34 603.3,723.84 604.19,731.31 605.09,740.27 605.99,732.8 606.88,723.84 607.78,719.35 608.68,723.84 609.57,731.31 610.47,726.82 611.36,728.32 612.26,729.81 613.16,726.82 614.05,725.33 614.95,726.82 615.85,731.31 616.74,729.81 617.64,726.82 618.54,729.81 619.43,732.8 620.33,728.32 621.23,722.34 622.12,719.35 623.02,720.85 623.92,726.82 624.81,731.31 625.71,729.81 626.6,726.82 627.5,725.33 628.4,726.08 629.29,726.82 630.19,728.32 631.09,727.57 631.98,726.82 632.88,728.32 633.78,726.82 634.67,724.58 635.57,723.84 636.47,724.58 637.36,725.33 638.26,720.85 639.16,717.86 640.05,714.12 640.95,712.63 641.84,711.88 642.74,714.12 643.64,719.35 644.53,722.34 645.43,729.81 646.03,741.76 646.63,753.72 647.22,764.18 647.82,771.65 648.72,777.62 649.61,782.11 650.51,785.09 651.41,786.59" stroke="#231f20" stroke-width="1.35" fill="none" stroke-linejoin="round" stroke-linecap="round"/>
<path d="M577,763.43 577.9,756.71 578.79,750.73 579.69,746.25 580.59,743.26 581.48,741.02 582.38,740.27 583.28,741.02 584.17,741.02 585.07,741.76 585.96,738.78 586.86,734.29 587.76,731.31 588.65,729.81 589.55,730.56 590.45,732.8 591.34,729.81 592.24,726.08 593.14,725.33 594.03,727.57 594.93,729.81 595.83,731.31 596.72,732.8 597.62,734.29 598.52,731.31 599.41,728.32 600.31,723.84 601.2,721.59 602.1,723.84 603,722.34 603.89,725.33 604.79,729.81 605.69,737.28 606.58,738.78 607.48,738.03 608.38,732.8 609.27,726.82 609.87,725.33 610.77,732.8 611.66,740.27 612.56,747.74 613.46,741.76 614.35,735.79 615.25,731.31 616.15,734.29 617.04,731.31 617.94,729.81 618.84,728.32 619.73,731.31 620.63,744.75 621.52,735.79 622.42,729.81 623.32,731.31 624.21,733.55 625.11,731.31 626.01,729.81 626.9,732.8 627.8,732.8 628.7,740.27 629.29,734.29 630.19,728.32 631.09,729.81 631.98,731.31 632.88,729.81 633.78,728.32 634.67,727.57 635.57,728.32 636.47,732.8 637.36,741.02 638.26,731.31 638.86,723.84 639.45,717.86 640.05,715.62 640.95,717.11 641.84,719.35 642.74,720.85 643.64,717.86 644.24,716.36 645.13,720.85 645.73,729.81 646.33,741.76 646.92,753.72 647.52,764.18 648.12,771.65 648.72,777.62 649.61,780.61 650.51,783.6 651.41,787.34" stroke="#e8202a" stroke-width="1.35" fill="none" stroke-linejoin="round" stroke-linecap="round"/>
<path d="M577.5 682.07v-5.6M577.5 808.37v5.6M610.5 682.07v-5.6M610.5 808.37v5.6M642.5 682.07v-5.6M642.5 808.37v5.6M675.5 682.07v-5.6M675.5 808.37v5.6M577.58 808.5h-5.6M675.68 808.5h5.6M577.58 776.5h-5.6M675.68 776.5h5.6M577.58 745.5h-5.6M675.68 745.5h5.6M577.58 713.5h-5.6M675.68 713.5h5.6M577.58 682.5h-5.6M675.68 682.5h5.6" stroke="#231f20" stroke-width="0.9" fill="none"/>
<path d="M587.5 682.07v-2.8M587.5 808.37v2.8M593.5 682.07v-2.8M593.5 808.37v2.8M597.5 682.07v-2.8M597.5 808.37v2.8M600.5 682.07v-2.8M600.5 808.37v2.8M603.5 682.07v-2.8M603.5 808.37v2.8M605.5 682.07v-2.8M605.5 808.37v2.8M607.5 682.07v-2.8M607.5 808.37v2.8M608.5 682.07v-2.8M608.5 808.37v2.8M620.5 682.07v-2.8M620.5 808.37v2.8M625.5 682.07v-2.8M625.5 808.37v2.8M629.5 682.07v-2.8M629.5 808.37v2.8M633.5 682.07v-2.8M633.5 808.37v2.8M635.5 682.07v-2.8M635.5 808.37v2.8M637.5 682.07v-2.8M637.5 808.37v2.8M639.5 682.07v-2.8M639.5 808.37v2.8M641.5 682.07v-2.8M641.5 808.37v2.8M652.5 682.07v-2.8M652.5 808.37v2.8M658.5 682.07v-2.8M658.5 808.37v2.8M662.5 682.07v-2.8M662.5 808.37v2.8M665.5 682.07v-2.8M665.5 808.37v2.8M668.5 682.07v-2.8M668.5 808.37v2.8M670.5 682.07v-2.8M670.5 808.37v2.8M672.5 682.07v-2.8M672.5 808.37v2.8M674.5 682.07v-2.8M674.5 808.37v2.8M577.58 798.5h-2.8M675.68 798.5h2.8M577.58 793.5h-2.8M675.68 793.5h2.8M577.58 789.5h-2.8M675.68 789.5h2.8M577.58 786.5h-2.8M675.68 786.5h2.8M577.58 783.5h-2.8M675.68 783.5h2.8M577.58 781.5h-2.8M675.68 781.5h2.8M577.58 779.5h-2.8M675.68 779.5h2.8M577.58 778.5h-2.8M675.68 778.5h2.8M577.58 767.5h-2.8M675.68 767.5h2.8M577.58 761.5h-2.8M675.68 761.5h2.8M577.58 757.5h-2.8M675.68 757.5h2.8M577.58 754.5h-2.8M675.68 754.5h2.8M577.58 752.5h-2.8M675.68 752.5h2.8M577.58 750.5h-2.8M675.68 750.5h2.8M577.58 748.5h-2.8M675.68 748.5h2.8M577.58 746.5h-2.8M675.68 746.5h2.8M577.58 735.5h-2.8M675.68 735.5h2.8M577.58 730.5h-2.8M675.68 730.5h2.8M577.58 726.5h-2.8M675.68 726.5h2.8M577.58 723.5h-2.8M675.68 723.5h2.8M577.58 720.5h-2.8M675.68 720.5h2.8M577.58 718.5h-2.8M675.68 718.5h2.8M577.58 716.5h-2.8M675.68 716.5h2.8M577.58 715.5h-2.8M675.68 715.5h2.8M577.58 704.5h-2.8M675.68 704.5h2.8M577.58 698.5h-2.8M675.68 698.5h2.8M577.58 694.5h-2.8M675.68 694.5h2.8M577.58 691.5h-2.8M675.68 691.5h2.8M577.58 689.5h-2.8M675.68 689.5h2.8M577.58 686.5h-2.8M675.68 686.5h2.8M577.58 685.5h-2.8M675.68 685.5h2.8M577.58 683.5h-2.8M675.68 683.5h2.8" stroke="#231f20" stroke-width="0.75" fill="none"/>
<rect x="577.58" y="682.07" width="98.1" height="126.3" stroke="#231f20" stroke-width="1.4" fill="none"/>
<text transform="translate(605.7 672.17) scale(1.0 1)" class="t" xml:space="preserve">G02</text>
<path class="o" d="M359 0H273V503H101V565C222 573 263 600 291 703H359Z" transform="translate(628.38 672.17) scale(0.01200 -0.01200)"/>
<text transform="translate(635.06 672.17) scale(1.0 1)" class="t" xml:space="preserve"> NS</text>
<path class="o" d="M359 0H273V503H101V565C222 573 263 600 291 703H359Z" transform="translate(567.63 827.87) scale(0.01230 -0.01150)"/>
<text transform="translate(574.47 827.87) scale(1.07 1)" class="l" xml:space="preserve">0</text>
<text transform="translate(580.12 823.47) scale(1.07 1)" class="s" xml:space="preserve">-</text>
<path class="o" d="M359 0H273V503H101V565C222 573 263 600 291 703H359Z" transform="translate(583.17 823.47) scale(0.00856 -0.00800)"/>
<path class="o" d="M359 0H273V503H101V565C222 573 263 600 291 703H359Z" transform="translate(601.66 827.87) scale(0.01230 -0.01150)"/>
<text transform="translate(608.5 827.87) scale(1.07 1)" class="l" xml:space="preserve">0</text>
<text transform="translate(614.54 823.47) scale(1.07 1)" class="s" xml:space="preserve">0</text>
<path class="o" d="M359 0H273V503H101V565C222 573 263 600 291 703H359Z" transform="translate(634.16 827.87) scale(0.01230 -0.01150)"/>
<text transform="translate(641 827.87) scale(1.07 1)" class="l" xml:space="preserve">0</text>
<path class="o" d="M359 0H273V503H101V565C222 573 263 600 291 703H359Z" transform="translate(647.44 823.47) scale(0.00856 -0.00800)"/>
<path class="o" d="M359 0H273V503H101V565C222 573 263 600 291 703H359Z" transform="translate(667.06 827.87) scale(0.01230 -0.01150)"/>
<text transform="translate(673.9 827.87) scale(1.07 1)" class="l" xml:space="preserve">0</text>
<text transform="translate(679.94 823.47) scale(1.07 1)" class="s" xml:space="preserve">2</text>
<text transform="translate(577.11 846.07) scale(1.02 1)" class="ax">Frequency (Hz)</text>
<text transform="translate(33.3 738.77) scale(1.008 1) rotate(-90)" class="ax" style="font-size:15.82px" text-anchor="middle">Acc. Spectra (cm/s)</text>
<text x="3.3" y="10.7" class="pl">(a)</text><text x="-0.6" y="448.9" class="pl">(b)</text>
</svg></body></html>
